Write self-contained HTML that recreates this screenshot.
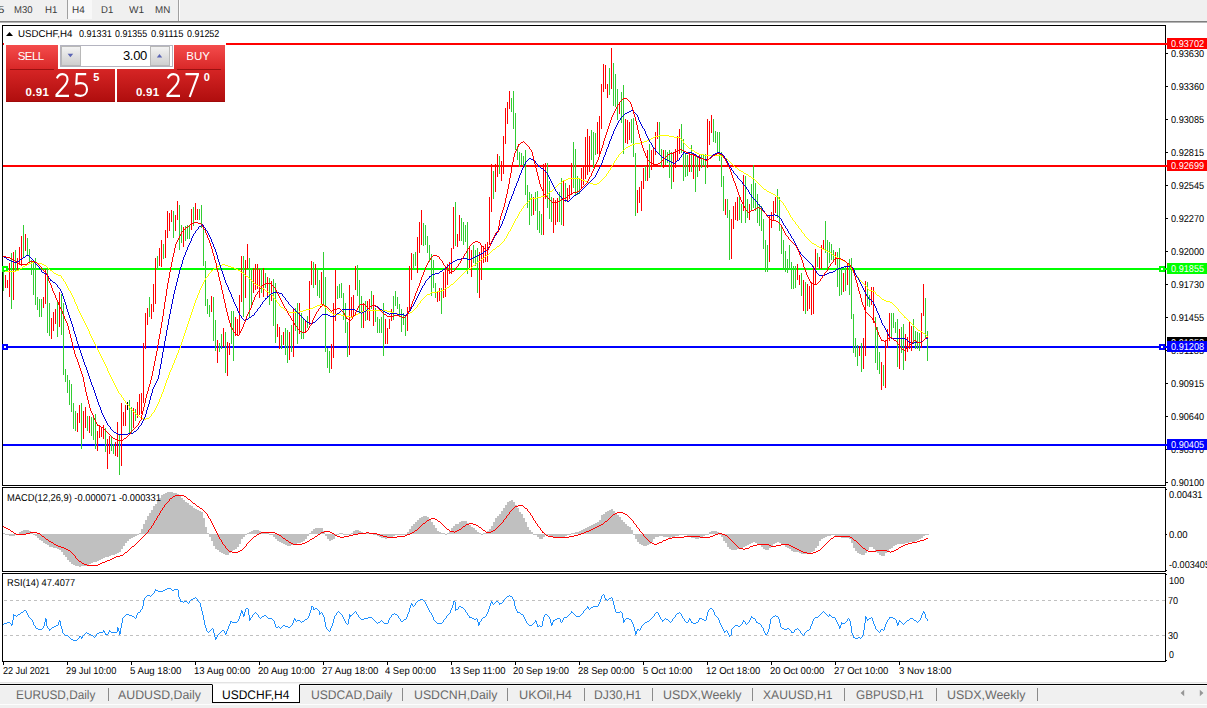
<!DOCTYPE html><html><head><meta charset="utf-8"><title>USDCHF,H4</title><style>
*{margin:0;padding:0;box-sizing:border-box}
html,body{width:1207px;height:708px;overflow:hidden;background:#fff}
body{font-family:"Liberation Sans",sans-serif;position:relative;color:#000}
.abs{position:absolute}
.tx{position:absolute;white-space:nowrap;transform-origin:0 0;text-rendering:geometricPrecision}
#toolbar{position:absolute;left:0;top:0;width:1207px;height:21px;background:#f0f0f0}
#tbsep{position:absolute;left:0;top:21px;width:1207px;height:2px;background:linear-gradient(#7e7e7e 50%,#b4b4b4 50%)}
.lab{position:absolute;left:1167px;width:40px;height:11px}
.tick{position:absolute;left:1166px;width:2px;height:1px;background:#000}
#tabs{position:absolute;left:0;top:685px;width:1207px;height:23px;background:#f0f0f0}
.tab{position:absolute;top:688px;font-size:12px;line-height:14px;color:#6a6a6a;white-space:nowrap}
.tsep{position:absolute;top:688px;width:1px;height:13px;background:#8a8a8a}
.dt{position:absolute;top:661px;width:1px;height:4px;background:#000}
</style></head><body>
<div id="toolbar">
<div class="abs" style="left:68px;top:0;width:24px;height:19px;background:#f8f8f8"></div>
<div class="abs" style="left:67px;top:0;width:1px;height:19px;background:#a0a0a0"></div>
<div class="abs" style="left:178px;top:0;width:1px;height:21px;background:#a0a0a0"></div><div class="abs" style="left:179px;top:0;width:1px;height:21px;background:#fdfdfd"></div>
<div class="tx" style="left:-1.95px;top:4.54px;font-size:10px;line-height:12px;color:#3c3c3c;transform:scaleX(1.1508);">5</div>
<div class="tx" style="left:14.25px;top:4.54px;font-size:10px;line-height:12px;color:#3c3c3c;transform:scaleX(0.9510);">M30</div>
<div class="tx" style="left:45.25px;top:4.54px;font-size:10px;line-height:12px;color:#3c3c3c;transform:scaleX(0.9700);">H1</div>
<div class="tx" style="left:72.45px;top:4.54px;font-size:10px;line-height:12px;color:#3c3c3c;transform:scaleX(0.9935);">H4</div>
<div class="tx" style="left:101.15px;top:4.54px;font-size:10px;line-height:12px;color:#3c3c3c;transform:scaleX(0.9544);">D1</div>
<div class="tx" style="left:128.55px;top:4.54px;font-size:10px;line-height:12px;color:#3c3c3c;transform:scaleX(1.0067);">W1</div>
<div class="tx" style="left:155.45px;top:4.54px;font-size:10px;line-height:12px;color:#3c3c3c;transform:scaleX(0.9774);">MN</div>
</div><div id="tbsep"></div>
<div class="abs" style="left:2px;top:25px;width:1164px;height:461px;border:1px solid #000"></div>
<div class="abs" style="left:2px;top:487px;width:1164px;height:85px;border:1px solid #000"></div>
<div class="abs" style="left:2px;top:573px;width:1164px;height:89px;border:1px solid #000"></div>
<svg class="abs" style="left:0;top:0" width="1207" height="708" viewBox="0 0 1207 708" shape-rendering="crispEdges">
<rect x="3" y="43" width="1164" height="2" fill="#f00"/>
<rect x="3" y="165" width="1164" height="2" fill="#f00"/>
<rect x="3" y="268" width="1164" height="2" fill="#0f0"/><rect x="2" y="266" width="6" height="6" fill="#0f0"/><rect x="4" y="268" width="2" height="2" fill="#fff"/><rect x="1159" y="266" width="6" height="6" fill="#0f0"/><rect x="1161" y="268" width="2" height="2" fill="#fff"/>
<rect x="3" y="346" width="1164" height="2" fill="#00f"/><rect x="2" y="344" width="6" height="6" fill="#00f"/><rect x="4" y="346" width="2" height="2" fill="#fff"/><rect x="1159" y="344" width="6" height="6" fill="#00f"/><rect x="1161" y="346" width="2" height="2" fill="#fff"/>
<rect x="3" y="444" width="1164" height="2" fill="#00f"/>
<path d="M3 271v20h1v-20zM11 253v56h1v-56zM15 250v21h1v-21zM23 225v32h1v-32zM27 238v18h1v-18zM29 249v14h1v-14zM31 260v15h1v-15zM33 260v35h1v-35zM35 258v47h1v-47zM37 297v13h1v-13zM39 299v18h1v-18zM41 299v18h1v-18zM47 269v64h1v-64zM49 303v33h1v-33zM57 302v35h1v-35zM61 294v41h1v-41zM63 303v72h1v-72zM65 369v13h1v-13zM67 375v18h1v-18zM69 380v25h1v-25zM71 384v28h1v-28zM73 403v26h1v-26zM75 411v20h1v-20zM81 403v46h1v-46zM87 416v15h1v-15zM91 417v19h1v-19zM93 418v22h1v-22zM95 414v35h1v-35zM105 428v24h1v-24zM111 437v14h1v-14zM113 444v10h1v-10zM119 434v41h1v-41zM129 400v33h1v-33zM131 407v26h1v-26zM135 409v12h1v-12zM149 297v20h1v-20zM157 256v13h1v-13zM163 244v15h1v-15zM173 211v27h1v-27zM179 205v45h1v-45zM181 225v18h1v-18zM185 226v15h1v-15zM187 225v14h1v-14zM189 225v14h1v-14zM193 207v19h1v-19zM199 209v11h1v-11zM201 205v23h1v-23zM203 225v41h1v-41zM205 261v45h1v-45zM207 299v15h1v-15zM209 305v12h1v-12zM213 297v44h1v-44zM215 320v31h1v-31zM219 343v9h1v-9zM221 334v15h1v-15zM225 332v41h1v-41zM231 311v33h1v-33zM233 311v50h1v-50zM243 256v61h1v-61zM249 258v59h1v-59zM251 270v36h1v-36zM261 269v24h1v-24zM265 273v15h1v-15zM269 278v27h1v-27zM273 279v47h1v-47zM275 283v60h1v-60zM281 335v14h1v-14zM285 328v27h1v-27zM287 330v33h1v-33zM291 325v27h1v-27zM295 308v23h1v-23zM297 303v41h1v-41zM301 313v26h1v-26zM303 319v20h1v-20zM307 316v12h1v-12zM313 262v26h1v-26zM317 270v26h1v-26zM319 280v18h1v-18zM323 252v53h1v-53zM325 277v75h1v-75zM327 348v20h1v-20zM329 351v22h1v-22zM337 286v13h1v-13zM339 284v14h1v-14zM341 283v15h1v-15zM343 293v27h1v-27zM345 303v30h1v-30zM347 322v35h1v-35zM357 265v31h1v-31zM359 280v32h1v-32zM361 296v32h1v-32zM365 301v20h1v-20zM371 291v18h1v-18zM375 308v14h1v-14zM377 317v16h1v-16zM379 319v14h1v-14zM381 317v16h1v-16zM383 303v53h1v-53zM393 296v24h1v-24zM395 291v15h1v-15zM397 297v12h1v-12zM399 304v13h1v-13zM401 309v23h1v-23zM403 313v12h1v-12zM405 315v21h1v-21zM413 254v15h1v-15zM415 252v14h1v-14zM423 223v23h1v-23zM425 225v20h1v-20zM427 236v17h1v-17zM429 245v17h1v-17zM431 254v42h1v-42zM433 260v28h1v-28zM435 283v15h1v-15zM441 288v26h1v-26zM455 202v44h1v-44zM461 218v23h1v-23zM463 222v23h1v-23zM465 225v17h1v-17zM467 222v52h1v-52zM473 245v18h1v-18zM475 250v16h1v-16zM477 248v45h1v-45zM493 171v28h1v-28zM499 156v18h1v-18zM511 98v14h1v-14zM513 91v38h1v-38zM515 113v37h1v-37zM517 146v14h1v-14zM519 152v15h1v-15zM521 153v12h1v-12zM523 156v12h1v-12zM525 150v45h1v-45zM527 185v23h1v-23zM529 192v33h1v-33zM531 194v22h1v-22zM535 192v19h1v-19zM537 191v39h1v-39zM539 211v22h1v-22zM541 214v21h1v-21zM547 163v45h1v-45zM549 181v38h1v-38zM551 197v25h1v-25zM559 192v30h1v-30zM561 178v47h1v-47zM565 183v19h1v-19zM573 142v46h1v-46zM575 149v46h1v-46zM577 176v19h1v-19zM579 178v16h1v-16zM591 130v30h1v-30zM593 132v36h1v-36zM595 133v22h1v-22zM609 68v27h1v-27zM613 63v43h1v-43zM615 74v33h1v-33zM617 89v31h1v-31zM621 92v31h1v-31zM623 85v69h1v-69zM631 119v24h1v-24zM633 118v39h1v-39zM635 153v63h1v-63zM645 166v15h1v-15zM649 144v34h1v-34zM659 122v32h1v-32zM661 149v18h1v-18zM665 150v15h1v-15zM667 152v11h1v-11zM669 150v28h1v-28zM671 152v37h1v-37zM681 124v29h1v-29zM683 139v42h1v-42zM685 154v23h1v-23zM687 155v21h1v-21zM691 145v27h1v-27zM695 155v37h1v-37zM697 157v20h1v-20zM701 154v14h1v-14zM703 154v12h1v-12zM705 154v30h1v-30zM713 119v23h1v-23zM715 131v12h1v-12zM717 132v21h1v-21zM719 132v29h1v-29zM721 152v35h1v-35zM723 176v35h1v-35zM727 199v19h1v-19zM729 210v50h1v-50zM739 196v24h1v-24zM741 204v19h1v-19zM745 176v47h1v-47zM747 199v19h1v-19zM751 184v27h1v-27zM753 165v43h1v-43zM755 183v28h1v-28zM757 194v29h1v-29zM759 204v22h1v-22zM761 206v25h1v-25zM763 219v30h1v-30zM765 240v32h1v-32zM767 245v27h1v-27zM777 189v29h1v-29zM779 197v34h1v-34zM781 225v29h1v-29zM783 240v30h1v-30zM785 251v21h1v-21zM787 259v14h1v-14zM789 245v25h1v-25zM791 262v27h1v-27zM793 266v23h1v-23zM795 266v22h1v-22zM801 273v23h1v-23zM805 282v32h1v-32zM817 253v14h1v-14zM825 221v32h1v-32zM827 240v29h1v-29zM829 242v21h1v-21zM831 244v16h1v-16zM833 250v12h1v-12zM837 252v35h1v-35zM839 248v48h1v-48zM841 267v28h1v-28zM845 266v25h1v-25zM849 259v36h1v-36zM851 258v61h1v-61zM853 314v39h1v-39zM855 338v19h1v-19zM857 345v21h1v-21zM861 343v29h1v-29zM867 282v24h1v-24zM869 295v12h1v-12zM875 317v46h1v-46zM877 327v43h1v-43zM879 352v22h1v-22zM883 365v21h1v-21zM891 313v25h1v-25zM893 313v15h1v-15zM895 322v11h1v-11zM897 319v48h1v-48zM901 327v26h1v-26zM903 324v46h1v-46zM913 319v24h1v-24zM915 331v18h1v-18zM917 332v17h1v-17zM919 333v18h1v-18zM925 298v40h1v-40zM927 331v30h1v-30z" fill="#32cd32"/>
<path d="M5 275v13h1v-13zM7 280v8h1v-8zM9 263v34h1v-34zM13 252v48h1v-48zM17 258v13h1v-13zM19 247v18h1v-18zM21 236v30h1v-30zM25 234v17h1v-17zM43 297v11h1v-11zM45 269v35h1v-35zM51 318v21h1v-21zM53 312v19h1v-19zM55 309v15h1v-15zM59 292v35h1v-35zM77 413v19h1v-19zM79 405v18h1v-18zM83 411v28h1v-28zM85 407v21h1v-21zM89 416v17h1v-17zM97 431v20h1v-20zM99 425v13h1v-13zM101 427v10h1v-10zM103 425v14h1v-14zM107 439v30h1v-30zM109 436v18h1v-18zM115 442v14h1v-14zM117 422v35h1v-35zM121 403v63h1v-63zM123 412v14h1v-14zM125 405v21h1v-21zM133 408v20h1v-20zM137 402v16h1v-16zM139 394v21h1v-21zM141 393v21h1v-21zM143 343v60h1v-60zM145 313v36h1v-36zM147 308v17h1v-17zM151 304v15h1v-15zM153 284v28h1v-28zM155 258v46h1v-46zM159 248v18h1v-18zM161 240v27h1v-27zM165 230v28h1v-28zM167 211v27h1v-27zM169 213v18h1v-18zM171 210v12h1v-12zM175 215v16h1v-16zM177 201v19h1v-19zM183 227v20h1v-20zM191 209v21h1v-21zM195 203v17h1v-17zM197 209v11h1v-11zM211 296v16h1v-16zM217 340v23h1v-23zM223 328v19h1v-19zM227 342v34h1v-34zM229 343v12h1v-12zM235 317v19h1v-19zM237 319v17h1v-17zM239 295v38h1v-38zM241 256v46h1v-46zM245 260v38h1v-38zM247 244v25h1v-25zM253 268v25h1v-25zM255 264v26h1v-26zM257 264v25h1v-25zM259 269v29h1v-29zM263 268v29h1v-29zM267 277v21h1v-21zM271 281v20h1v-20zM277 324v13h1v-13zM279 327v22h1v-22zM283 332v13h1v-13zM289 332v28h1v-28zM293 308v49h1v-49zM299 303v31h1v-31zM305 321v12h1v-12zM309 281v44h1v-44zM311 261v24h1v-24zM315 264v21h1v-21zM321 272v32h1v-32zM331 344v25h1v-25zM333 303v55h1v-55zM335 270v51h1v-51zM349 285v70h1v-70zM351 297v20h1v-20zM353 295v22h1v-22zM355 266v24h1v-24zM363 303v25h1v-25zM367 301v19h1v-19zM369 299v22h1v-22zM373 295v31h1v-31zM385 319v25h1v-25zM387 328v16h1v-16zM389 319v10h1v-10zM391 309v12h1v-12zM407 307v24h1v-24zM409 266v44h1v-44zM411 253v27h1v-27zM417 237v36h1v-36zM419 222v31h1v-31zM421 210v35h1v-35zM437 291v11h1v-11zM439 288v13h1v-13zM443 272v26h1v-26zM445 269v28h1v-28zM447 264v21h1v-21zM449 262v12h1v-12zM451 248v26h1v-26zM453 207v42h1v-42zM457 234v13h1v-13zM459 215v26h1v-26zM469 248v21h1v-21zM471 250v27h1v-27zM479 252v46h1v-46zM481 246v34h1v-34zM483 246v17h1v-17zM485 244v18h1v-18zM487 242v20h1v-20zM489 197v48h1v-48zM491 164v48h1v-48zM495 164v28h1v-28zM497 154v23h1v-23zM501 161v20h1v-20zM503 136v38h1v-38zM505 108v36h1v-36zM507 102v22h1v-22zM509 91v18h1v-18zM533 197v18h1v-18zM543 164v71h1v-71zM545 163v36h1v-36zM553 198v35h1v-35zM555 200v25h1v-25zM557 198v24h1v-24zM563 181v45h1v-45zM567 188v14h1v-14zM569 185v14h1v-14zM571 163v32h1v-32zM581 168v21h1v-21zM583 166v19h1v-19zM585 137v42h1v-42zM587 129v46h1v-46zM589 136v36h1v-36zM597 122v32h1v-32zM599 116v39h1v-39zM601 84v45h1v-45zM603 64v28h1v-28zM605 65v24h1v-24zM607 84v14h1v-14zM611 48v41h1v-41zM619 102v12h1v-12zM625 119v24h1v-24zM627 120v24h1v-24zM629 122v18h1v-18zM637 190v23h1v-23zM639 187v16h1v-16zM641 181v30h1v-30zM643 168v21h1v-21zM647 150v31h1v-31zM651 150v20h1v-20zM653 147v18h1v-18zM655 132v23h1v-23zM657 122v17h1v-17zM663 150v18h1v-18zM673 152v30h1v-30zM675 149v19h1v-19zM677 136v24h1v-24zM679 129v25h1v-25zM689 152v20h1v-20zM693 154v25h1v-25zM699 155v16h1v-16zM707 119v49h1v-49zM709 121v24h1v-24zM711 115v18h1v-18zM725 199v16h1v-16zM731 219v40h1v-40zM733 206v23h1v-23zM735 202v18h1v-18zM737 197v24h1v-24zM743 175v36h1v-36zM749 204v16h1v-16zM769 215v47h1v-47zM771 212v16h1v-16zM773 201v20h1v-20zM775 197v16h1v-16zM797 264v16h1v-16zM799 275v10h1v-10zM803 280v31h1v-31zM807 284v27h1v-27zM809 286v23h1v-23zM811 282v33h1v-33zM813 266v48h1v-48zM815 249v36h1v-36zM819 257v12h1v-12zM821 245v24h1v-24zM823 240v10h1v-10zM835 252v13h1v-13zM843 273v19h1v-19zM847 264v21h1v-21zM859 346v10h1v-10zM863 338v31h1v-31zM865 281v75h1v-75zM871 287v18h1v-18zM873 287v36h1v-36zM881 362v28h1v-28zM885 340v48h1v-48zM887 329v19h1v-19zM889 313v28h1v-28zM899 329v40h1v-40zM905 334v27h1v-27zM907 337v15h1v-15zM909 322v27h1v-27zM911 326v25h1v-25zM921 313v35h1v-35zM923 284v32h1v-32z" fill="#ff0000"/>
<path d="M127 402v8h1v-8z" fill="#000000"/>
<path d="M5 271v1h1v-1zM6 271v1h1v-1zM7 271v1h1v-1zM8 271v1h1v-1zM9 271v1h1v-1zM10 271v1h1v-1zM11 271v1h1v-1zM12 271v1h1v-1zM13 271v1h1v-1zM14 271v1h1v-1zM15 271v1h1v-1zM16 270v1h1v-1zM17 270v1h1v-1zM18 270v1h1v-1zM19 269v1h1v-1zM20 268v1h1v-1zM21 268v1h1v-1zM22 267v1h1v-1zM23 266v1h1v-1zM24 266v1h1v-1zM25 265v1h1v-1zM26 265v1h1v-1zM27 264v1h1v-1zM28 264v1h1v-1zM29 263v1h1v-1zM30 263v1h1v-1zM31 263v1h1v-1zM32 262v1h1v-1zM33 262v1h1v-1zM34 262v1h1v-1zM35 262v1h1v-1zM36 262v1h1v-1zM37 263v1h1v-1zM38 263v1h1v-1zM39 263v1h1v-1zM40 263v1h1v-1zM41 263v1h1v-1zM42 264v1h1v-1zM43 264v1h1v-1zM44 265v1h1v-1zM45 265v1h1v-1zM46 266v1h1v-1zM47 267v1h1v-1zM48 268v1h1v-1zM49 269v1h1v-1zM50 270v1h1v-1zM51 270v1h1v-1zM52 271v1h1v-1zM53 272v1h1v-1zM54 273v1h1v-1zM55 273v1h1v-1zM56 274v1h1v-1zM57 274v1h1v-1zM58 275v1h1v-1zM59 275v1h1v-1zM60 275v1h1v-1zM61 276v2h1v-2zM62 278v1h1v-1zM63 279v2h1v-2zM64 281v1h1v-1zM65 282v2h1v-2zM66 284v2h1v-2zM67 286v2h1v-2zM68 288v2h1v-2zM69 290v1h1v-1zM70 291v2h1v-2zM71 293v2h1v-2zM72 295v2h1v-2zM73 297v2h1v-2zM74 299v3h1v-3zM75 302v2h1v-2zM76 304v2h1v-2zM77 306v3h1v-3zM78 309v2h1v-2zM79 311v2h1v-2zM80 313v2h1v-2zM81 315v2h1v-2zM82 317v2h1v-2zM83 319v2h1v-2zM84 321v2h1v-2zM85 323v2h1v-2zM86 325v2h1v-2zM87 327v2h1v-2zM88 329v2h1v-2zM89 331v3h1v-3zM90 334v2h1v-2zM91 336v2h1v-2zM92 338v2h1v-2zM93 340v2h1v-2zM94 342v2h1v-2zM95 344v2h1v-2zM96 346v2h1v-2zM97 348v2h1v-2zM98 350v2h1v-2zM99 352v2h1v-2zM100 354v2h1v-2zM101 356v2h1v-2zM102 358v2h1v-2zM103 360v2h1v-2zM104 362v2h1v-2zM105 364v2h1v-2zM106 366v2h1v-2zM107 368v3h1v-3zM108 371v2h1v-2zM109 373v2h1v-2zM110 375v2h1v-2zM111 377v2h1v-2zM112 379v2h1v-2zM113 381v2h1v-2zM114 383v2h1v-2zM115 385v2h1v-2zM116 387v2h1v-2zM117 389v2h1v-2zM118 391v2h1v-2zM119 393v1h1v-1zM120 394v1h1v-1zM121 395v2h1v-2zM122 397v1h1v-1zM123 398v2h1v-2zM124 400v1h1v-1zM125 401v2h1v-2zM126 403v1h1v-1zM127 404v1h1v-1zM128 405v1h1v-1zM129 406v2h1v-2zM130 408v1h1v-1zM131 409v1h1v-1zM132 410v1h1v-1zM133 411v1h1v-1zM134 412v1h1v-1zM135 413v1h1v-1zM136 414v1h1v-1zM137 415v1h1v-1zM138 415v1h1v-1zM139 416v1h1v-1zM140 417v1h1v-1zM141 417v1h1v-1zM142 418v1h1v-1zM143 418v1h1v-1zM144 419v1h1v-1zM145 419v1h1v-1zM146 418v1h1v-1zM147 418v1h1v-1zM148 418v1h1v-1zM149 417v1h1v-1zM150 416v1h1v-1zM151 414v2h1v-2zM152 413v1h1v-1zM153 412v1h1v-1zM154 410v2h1v-2zM155 408v2h1v-2zM156 406v2h1v-2zM157 404v2h1v-2zM158 402v2h1v-2zM159 399v3h1v-3zM160 397v2h1v-2zM161 394v3h1v-3zM162 392v2h1v-2zM163 389v3h1v-3zM164 386v3h1v-3zM165 383v3h1v-3zM166 380v3h1v-3zM167 378v2h1v-2zM168 375v3h1v-3zM169 372v3h1v-3zM170 370v2h1v-2zM171 368v2h1v-2zM172 365v3h1v-3zM173 363v2h1v-2zM174 360v3h1v-3zM175 358v2h1v-2zM176 355v3h1v-3zM177 353v2h1v-2zM178 350v3h1v-3zM179 348v2h1v-2zM180 345v3h1v-3zM181 342v3h1v-3zM182 339v3h1v-3zM183 336v3h1v-3zM184 333v3h1v-3zM185 330v3h1v-3zM186 327v3h1v-3zM187 324v3h1v-3zM188 321v3h1v-3zM189 318v3h1v-3zM190 315v3h1v-3zM191 312v3h1v-3zM192 309v3h1v-3zM193 306v3h1v-3zM194 303v3h1v-3zM195 300v3h1v-3zM196 298v2h1v-2zM197 295v3h1v-3zM198 293v2h1v-2zM199 290v3h1v-3zM200 288v2h1v-2zM201 286v2h1v-2zM202 284v2h1v-2zM203 282v2h1v-2zM204 280v2h1v-2zM205 278v2h1v-2zM206 277v1h1v-1zM207 276v1h1v-1zM208 274v2h1v-2zM209 273v1h1v-1zM210 272v1h1v-1zM211 270v2h1v-2zM212 270v1h1v-1zM213 269v1h1v-1zM214 268v1h1v-1zM215 268v1h1v-1zM216 267v1h1v-1zM217 266v1h1v-1zM218 266v1h1v-1zM219 265v1h1v-1zM220 265v1h1v-1zM221 265v1h1v-1zM222 264v1h1v-1zM223 264v1h1v-1zM224 264v1h1v-1zM225 265v1h1v-1zM226 265v1h1v-1zM227 265v1h1v-1zM228 266v1h1v-1zM229 266v1h1v-1zM230 266v1h1v-1zM231 267v1h1v-1zM232 267v1h1v-1zM233 267v1h1v-1zM234 268v1h1v-1zM235 268v1h1v-1zM236 269v1h1v-1zM237 269v1h1v-1zM238 270v1h1v-1zM239 270v1h1v-1zM240 271v1h1v-1zM241 272v1h1v-1zM242 272v1h1v-1zM243 273v1h1v-1zM244 274v1h1v-1zM245 275v1h1v-1zM246 276v1h1v-1zM247 276v1h1v-1zM248 277v1h1v-1zM249 278v1h1v-1zM250 279v1h1v-1zM251 280v1h1v-1zM252 281v1h1v-1zM253 282v1h1v-1zM254 283v1h1v-1zM255 284v1h1v-1zM256 284v1h1v-1zM257 285v1h1v-1zM258 285v1h1v-1zM259 286v1h1v-1zM260 286v1h1v-1zM261 287v1h1v-1zM262 288v1h1v-1zM263 288v1h1v-1zM264 289v1h1v-1zM265 290v1h1v-1zM266 291v1h1v-1zM267 291v1h1v-1zM268 292v1h1v-1zM269 293v1h1v-1zM270 294v1h1v-1zM271 294v1h1v-1zM272 295v1h1v-1zM273 296v2h1v-2zM274 298v1h1v-1zM275 299v1h1v-1zM276 300v2h1v-2zM277 302v1h1v-1zM278 303v1h1v-1zM279 304v2h1v-2zM280 306v1h1v-1zM281 307v1h1v-1zM282 307v1h1v-1zM283 308v1h1v-1zM284 309v1h1v-1zM285 310v1h1v-1zM286 310v1h1v-1zM287 311v1h1v-1zM288 311v1h1v-1zM289 312v1h1v-1zM290 312v1h1v-1zM291 312v1h1v-1zM292 312v1h1v-1zM293 312v1h1v-1zM294 312v1h1v-1zM295 312v1h1v-1zM296 312v1h1v-1zM297 312v1h1v-1zM298 312v1h1v-1zM299 311v1h1v-1zM300 311v1h1v-1zM301 311v1h1v-1zM302 311v1h1v-1zM303 310v1h1v-1zM304 310v1h1v-1zM305 310v1h1v-1zM306 309v1h1v-1zM307 309v1h1v-1zM308 309v1h1v-1zM309 309v1h1v-1zM310 308v1h1v-1zM311 308v1h1v-1zM312 308v1h1v-1zM313 307v1h1v-1zM314 307v1h1v-1zM315 306v1h1v-1zM316 306v1h1v-1zM317 305v1h1v-1zM318 305v1h1v-1zM319 305v1h1v-1zM320 304v1h1v-1zM321 304v1h1v-1zM322 305v1h1v-1zM323 305v1h1v-1zM324 306v1h1v-1zM325 307v1h1v-1zM326 308v1h1v-1zM327 309v1h1v-1zM328 310v1h1v-1zM329 311v1h1v-1zM330 312v1h1v-1zM331 312v1h1v-1zM332 313v1h1v-1zM333 314v1h1v-1zM334 314v1h1v-1zM335 314v1h1v-1zM336 314v1h1v-1zM337 314v1h1v-1zM338 314v1h1v-1zM339 314v1h1v-1zM340 314v1h1v-1zM341 315v1h1v-1zM342 315v1h1v-1zM343 315v1h1v-1zM344 315v1h1v-1zM345 316v1h1v-1zM346 316v1h1v-1zM347 316v1h1v-1zM348 316v1h1v-1zM349 316v1h1v-1zM350 317v1h1v-1zM351 317v1h1v-1zM352 316v1h1v-1zM353 316v1h1v-1zM354 315v1h1v-1zM355 315v1h1v-1zM356 314v1h1v-1zM357 314v1h1v-1zM358 313v1h1v-1zM359 313v1h1v-1zM360 312v1h1v-1zM361 312v1h1v-1zM362 311v1h1v-1zM363 311v1h1v-1zM364 311v1h1v-1zM365 310v1h1v-1zM366 310v1h1v-1zM367 310v1h1v-1zM368 310v1h1v-1zM369 310v1h1v-1zM370 310v1h1v-1zM371 310v1h1v-1zM372 310v1h1v-1zM373 310v1h1v-1zM374 310v1h1v-1zM375 310v1h1v-1zM376 310v1h1v-1zM377 310v1h1v-1zM378 310v1h1v-1zM379 310v1h1v-1zM380 310v1h1v-1zM381 310v1h1v-1zM382 310v1h1v-1zM383 310v1h1v-1zM384 310v1h1v-1zM385 310v1h1v-1zM386 310v1h1v-1zM387 311v1h1v-1zM388 311v1h1v-1zM389 311v1h1v-1zM390 311v1h1v-1zM391 312v1h1v-1zM392 312v1h1v-1zM393 312v1h1v-1zM394 313v1h1v-1zM395 313v1h1v-1zM396 313v1h1v-1zM397 313v1h1v-1zM398 314v1h1v-1zM399 314v1h1v-1zM400 314v1h1v-1zM401 314v1h1v-1zM402 314v1h1v-1zM403 314v1h1v-1zM404 315v1h1v-1zM405 315v1h1v-1zM406 314v1h1v-1zM407 314v1h1v-1zM408 313v1h1v-1zM409 313v1h1v-1zM410 312v1h1v-1zM411 312v1h1v-1zM412 311v1h1v-1zM413 310v1h1v-1zM414 309v1h1v-1zM415 308v1h1v-1zM416 307v1h1v-1zM417 305v2h1v-2zM418 304v1h1v-1zM419 303v1h1v-1zM420 301v2h1v-2zM421 300v1h1v-1zM422 299v1h1v-1zM423 298v1h1v-1zM424 297v1h1v-1zM425 296v1h1v-1zM426 295v1h1v-1zM427 294v1h1v-1zM428 294v1h1v-1zM429 294v1h1v-1zM430 293v1h1v-1zM431 292v1h1v-1zM432 292v1h1v-1zM433 292v1h1v-1zM434 292v1h1v-1zM435 292v1h1v-1zM436 292v1h1v-1zM437 291v1h1v-1zM438 291v1h1v-1zM439 291v1h1v-1zM440 291v1h1v-1zM441 290v1h1v-1zM442 290v1h1v-1zM443 290v1h1v-1zM444 289v1h1v-1zM445 288v1h1v-1zM446 288v1h1v-1zM447 287v1h1v-1zM448 287v1h1v-1zM449 286v1h1v-1zM450 285v1h1v-1zM451 284v1h1v-1zM452 284v1h1v-1zM453 283v1h1v-1zM454 282v1h1v-1zM455 281v1h1v-1zM456 280v1h1v-1zM457 279v1h1v-1zM458 278v1h1v-1zM459 277v1h1v-1zM460 276v1h1v-1zM461 275v1h1v-1zM462 274v1h1v-1zM463 273v1h1v-1zM464 272v1h1v-1zM465 271v1h1v-1zM466 270v1h1v-1zM467 270v1h1v-1zM468 269v1h1v-1zM469 268v1h1v-1zM470 268v1h1v-1zM471 267v1h1v-1zM472 266v1h1v-1zM473 265v1h1v-1zM474 265v1h1v-1zM475 264v1h1v-1zM476 263v1h1v-1zM477 262v1h1v-1zM478 261v1h1v-1zM479 261v1h1v-1zM480 260v1h1v-1zM481 259v1h1v-1zM482 258v1h1v-1zM483 258v1h1v-1zM484 257v1h1v-1zM485 256v1h1v-1zM486 255v1h1v-1zM487 255v1h1v-1zM488 254v1h1v-1zM489 253v1h1v-1zM490 252v1h1v-1zM491 251v1h1v-1zM492 250v1h1v-1zM493 249v1h1v-1zM494 249v1h1v-1zM495 248v1h1v-1zM496 247v1h1v-1zM497 246v1h1v-1zM498 246v1h1v-1zM499 245v1h1v-1zM500 244v1h1v-1zM501 243v1h1v-1zM502 242v1h1v-1zM503 241v1h1v-1zM504 239v2h1v-2zM505 238v1h1v-1zM506 236v2h1v-2zM507 234v2h1v-2zM508 232v2h1v-2zM509 231v1h1v-1zM510 229v2h1v-2zM511 227v2h1v-2zM512 225v2h1v-2zM513 223v2h1v-2zM514 221v2h1v-2zM515 219v2h1v-2zM516 218v1h1v-1zM517 216v2h1v-2zM518 214v2h1v-2zM519 212v2h1v-2zM520 211v1h1v-1zM521 209v2h1v-2zM522 208v1h1v-1zM523 206v2h1v-2zM524 205v1h1v-1zM525 204v1h1v-1zM526 203v1h1v-1zM527 202v1h1v-1zM528 201v1h1v-1zM529 200v1h1v-1zM530 198v2h1v-2zM531 198v1h1v-1zM532 198v1h1v-1zM533 198v1h1v-1zM534 198v1h1v-1zM535 198v1h1v-1zM536 198v1h1v-1zM537 197v1h1v-1zM538 197v1h1v-1zM539 197v1h1v-1zM540 197v1h1v-1zM541 196v1h1v-1zM542 196v1h1v-1zM543 196v1h1v-1zM544 196v1h1v-1zM545 195v1h1v-1zM546 195v1h1v-1zM547 194v1h1v-1zM548 193v1h1v-1zM549 192v1h1v-1zM550 191v1h1v-1zM551 191v1h1v-1zM552 190v1h1v-1zM553 189v1h1v-1zM554 188v1h1v-1zM555 187v1h1v-1zM556 186v1h1v-1zM557 185v1h1v-1zM558 184v1h1v-1zM559 183v1h1v-1zM560 183v1h1v-1zM561 182v1h1v-1zM562 181v1h1v-1zM563 180v1h1v-1zM564 180v1h1v-1zM565 180v1h1v-1zM566 179v1h1v-1zM567 179v1h1v-1zM568 178v1h1v-1zM569 178v1h1v-1zM570 178v1h1v-1zM571 178v1h1v-1zM572 178v1h1v-1zM573 178v1h1v-1zM574 178v1h1v-1zM575 178v1h1v-1zM576 178v1h1v-1zM577 178v1h1v-1zM578 178v1h1v-1zM579 178v1h1v-1zM580 179v1h1v-1zM581 179v1h1v-1zM582 180v1h1v-1zM583 180v1h1v-1zM584 180v1h1v-1zM585 181v1h1v-1zM586 181v1h1v-1zM587 181v1h1v-1zM588 182v1h1v-1zM589 182v1h1v-1zM590 183v1h1v-1zM591 183v1h1v-1zM592 183v1h1v-1zM593 184v1h1v-1zM594 184v1h1v-1zM595 184v1h1v-1zM596 184v1h1v-1zM597 183v1h1v-1zM598 183v1h1v-1zM599 182v1h1v-1zM600 181v1h1v-1zM601 180v1h1v-1zM602 179v1h1v-1zM603 178v1h1v-1zM604 177v1h1v-1zM605 176v1h1v-1zM606 174v2h1v-2zM607 173v1h1v-1zM608 171v2h1v-2zM609 170v1h1v-1zM610 168v2h1v-2zM611 166v2h1v-2zM612 165v1h1v-1zM613 163v2h1v-2zM614 161v2h1v-2zM615 160v1h1v-1zM616 158v2h1v-2zM617 157v1h1v-1zM618 155v2h1v-2zM619 154v1h1v-1zM620 153v1h1v-1zM621 152v1h1v-1zM622 151v1h1v-1zM623 150v1h1v-1zM624 149v1h1v-1zM625 148v1h1v-1zM626 147v1h1v-1zM627 147v1h1v-1zM628 146v1h1v-1zM629 146v1h1v-1zM630 145v1h1v-1zM631 145v1h1v-1zM632 144v1h1v-1zM633 144v1h1v-1zM634 144v1h1v-1zM635 143v1h1v-1zM636 143v1h1v-1zM637 143v1h1v-1zM638 143v1h1v-1zM639 143v1h1v-1zM640 142v1h1v-1zM641 142v1h1v-1zM642 142v1h1v-1zM643 142v1h1v-1zM644 141v1h1v-1zM645 141v1h1v-1zM646 141v1h1v-1zM647 140v1h1v-1zM648 140v1h1v-1zM649 139v1h1v-1zM650 139v1h1v-1zM651 138v1h1v-1zM652 138v1h1v-1zM653 137v1h1v-1zM654 137v1h1v-1zM655 136v1h1v-1zM656 136v1h1v-1zM657 136v1h1v-1zM658 136v1h1v-1zM659 135v1h1v-1zM660 135v1h1v-1zM661 135v1h1v-1zM662 135v1h1v-1zM663 135v1h1v-1zM664 135v1h1v-1zM665 135v1h1v-1zM666 135v1h1v-1zM667 135v1h1v-1zM668 135v1h1v-1zM669 136v1h1v-1zM670 136v1h1v-1zM671 136v1h1v-1zM672 136v1h1v-1zM673 136v1h1v-1zM674 137v1h1v-1zM675 137v1h1v-1zM676 137v1h1v-1zM677 137v1h1v-1zM678 137v1h1v-1zM679 137v1h1v-1zM680 138v1h1v-1zM681 139v1h1v-1zM682 140v1h1v-1zM683 141v2h1v-2zM684 143v1h1v-1zM685 144v1h1v-1zM686 145v1h1v-1zM687 146v1h1v-1zM688 147v1h1v-1zM689 148v1h1v-1zM690 148v1h1v-1zM691 149v1h1v-1zM692 150v1h1v-1zM693 150v1h1v-1zM694 151v1h1v-1zM695 152v1h1v-1zM696 152v1h1v-1zM697 153v1h1v-1zM698 153v1h1v-1zM699 154v1h1v-1zM700 154v1h1v-1zM701 154v1h1v-1zM702 154v1h1v-1zM703 154v1h1v-1zM704 155v1h1v-1zM705 155v1h1v-1zM706 155v1h1v-1zM707 155v1h1v-1zM708 155v1h1v-1zM709 155v1h1v-1zM710 155v1h1v-1zM711 155v1h1v-1zM712 155v1h1v-1zM713 155v1h1v-1zM714 155v1h1v-1zM715 155v1h1v-1zM716 155v1h1v-1zM717 155v1h1v-1zM718 155v1h1v-1zM719 155v1h1v-1zM720 155v1h1v-1zM721 156v1h1v-1zM722 156v1h1v-1zM723 157v1h1v-1zM724 157v1h1v-1zM725 158v1h1v-1zM726 158v1h1v-1zM727 159v1h1v-1zM728 160v1h1v-1zM729 161v1h1v-1zM730 162v1h1v-1zM731 163v1h1v-1zM732 164v1h1v-1zM733 165v1h1v-1zM734 166v1h1v-1zM735 167v1h1v-1zM736 167v1h1v-1zM737 168v1h1v-1zM738 169v1h1v-1zM739 170v1h1v-1zM740 170v1h1v-1zM741 171v1h1v-1zM742 171v1h1v-1zM743 172v1h1v-1zM744 173v1h1v-1zM745 173v1h1v-1zM746 174v1h1v-1zM747 174v1h1v-1zM748 175v1h1v-1zM749 176v1h1v-1zM750 176v1h1v-1zM751 177v1h1v-1zM752 178v1h1v-1zM753 178v1h1v-1zM754 179v1h1v-1zM755 180v1h1v-1zM756 181v1h1v-1zM757 182v1h1v-1zM758 183v1h1v-1zM759 184v1h1v-1zM760 185v1h1v-1zM761 186v1h1v-1zM762 187v1h1v-1zM763 188v1h1v-1zM764 189v1h1v-1zM765 189v1h1v-1zM766 190v1h1v-1zM767 191v1h1v-1zM768 191v1h1v-1zM769 192v1h1v-1zM770 192v1h1v-1zM771 193v1h1v-1zM772 193v1h1v-1zM773 194v1h1v-1zM774 194v1h1v-1zM775 195v1h1v-1zM776 196v1h1v-1zM777 196v1h1v-1zM778 197v2h1v-2zM779 199v1h1v-1zM780 200v1h1v-1zM781 201v1h1v-1zM782 202v1h1v-1zM783 203v2h1v-2zM784 205v1h1v-1zM785 206v2h1v-2zM786 208v2h1v-2zM787 210v1h1v-1zM788 211v2h1v-2zM789 213v2h1v-2zM790 215v2h1v-2zM791 217v1h1v-1zM792 218v2h1v-2zM793 220v1h1v-1zM794 221v1h1v-1zM795 222v2h1v-2zM796 224v1h1v-1zM797 225v1h1v-1zM798 226v2h1v-2zM799 228v1h1v-1zM800 229v1h1v-1zM801 230v2h1v-2zM802 232v1h1v-1zM803 233v1h1v-1zM804 234v2h1v-2zM805 236v1h1v-1zM806 237v1h1v-1zM807 238v1h1v-1zM808 239v1h1v-1zM809 240v1h1v-1zM810 241v1h1v-1zM811 242v1h1v-1zM812 243v1h1v-1zM813 243v1h1v-1zM814 244v1h1v-1zM815 244v1h1v-1zM816 245v1h1v-1zM817 246v1h1v-1zM818 246v1h1v-1zM819 247v1h1v-1zM820 247v1h1v-1zM821 248v1h1v-1zM822 248v1h1v-1zM823 249v1h1v-1zM824 249v1h1v-1zM825 250v1h1v-1zM826 250v1h1v-1zM827 251v1h1v-1zM828 251v1h1v-1zM829 252v1h1v-1zM830 252v1h1v-1zM831 253v1h1v-1zM832 254v1h1v-1zM833 255v1h1v-1zM834 255v1h1v-1zM835 256v1h1v-1zM836 257v1h1v-1zM837 257v1h1v-1zM838 258v1h1v-1zM839 258v1h1v-1zM840 259v1h1v-1zM841 259v1h1v-1zM842 260v1h1v-1zM843 260v1h1v-1zM844 261v1h1v-1zM845 261v1h1v-1zM846 262v1h1v-1zM847 263v1h1v-1zM848 264v2h1v-2zM849 266v1h1v-1zM850 267v1h1v-1zM851 268v1h1v-1zM852 269v2h1v-2zM853 271v1h1v-1zM854 272v1h1v-1zM855 273v2h1v-2zM856 275v1h1v-1zM857 276v1h1v-1zM858 277v2h1v-2zM859 279v1h1v-1zM860 280v1h1v-1zM861 281v1h1v-1zM862 282v1h1v-1zM863 283v1h1v-1zM864 284v1h1v-1zM865 285v1h1v-1zM866 286v1h1v-1zM867 287v2h1v-2zM868 289v1h1v-1zM869 290v1h1v-1zM870 290v1h1v-1zM871 290v1h1v-1zM872 291v1h1v-1zM873 291v1h1v-1zM874 291v1h1v-1zM875 292v2h1v-2zM876 294v1h1v-1zM877 295v1h1v-1zM878 295v1h1v-1zM879 296v1h1v-1zM880 297v1h1v-1zM881 298v1h1v-1zM882 299v1h1v-1zM883 299v1h1v-1zM884 300v1h1v-1zM885 300v1h1v-1zM886 301v1h1v-1zM887 301v1h1v-1zM888 301v1h1v-1zM889 301v1h1v-1zM890 302v1h1v-1zM891 302v1h1v-1zM892 303v1h1v-1zM893 304v1h1v-1zM894 305v1h1v-1zM895 306v1h1v-1zM896 307v1h1v-1zM897 308v1h1v-1zM898 309v2h1v-2zM899 311v1h1v-1zM900 312v1h1v-1zM901 313v1h1v-1zM902 314v1h1v-1zM903 315v1h1v-1zM904 316v2h1v-2zM905 317v1h1v-1zM906 318v1h1v-1zM907 319v1h1v-1zM908 320v1h1v-1zM909 321v1h1v-1zM910 322v1h1v-1zM911 323v1h1v-1zM912 324v1h1v-1zM913 325v1h1v-1zM914 326v1h1v-1zM915 327v1h1v-1zM916 328v1h1v-1zM917 329v1h1v-1zM918 330v1h1v-1zM919 330v1h1v-1zM920 331v1h1v-1zM921 331v1h1v-1zM922 332v1h1v-1zM923 333v1h1v-1zM924 333v1h1v-1zM925 334v1h1v-1zM926 335v1h1v-1zM927 336v1h1v-1z" fill="#ffff00"/>
<path d="M3 256v1h1v-1zM4 257v1h1v-1zM5 257v1h1v-1zM6 258v1h1v-1zM7 259v1h1v-1zM8 259v1h1v-1zM9 260v1h1v-1zM10 260v1h1v-1zM11 261v1h1v-1zM12 261v1h1v-1zM13 261v1h1v-1zM14 262v1h1v-1zM15 262v1h1v-1zM16 262v1h1v-1zM17 261v1h1v-1zM18 261v1h1v-1zM19 260v1h1v-1zM20 259v1h1v-1zM21 259v1h1v-1zM22 258v1h1v-1zM23 257v1h1v-1zM24 257v1h1v-1zM25 256v1h1v-1zM26 255v1h1v-1zM27 255v1h1v-1zM28 255v1h1v-1zM29 256v1h1v-1zM30 257v1h1v-1zM31 258v1h1v-1zM32 259v1h1v-1zM33 260v1h1v-1zM34 261v2h1v-2zM35 263v1h1v-1zM36 264v1h1v-1zM37 265v1h1v-1zM38 266v1h1v-1zM39 267v2h1v-2zM40 269v1h1v-1zM41 270v2h1v-2zM42 272v1h1v-1zM43 272v1h1v-1zM44 273v1h1v-1zM45 273v1h1v-1zM46 274v1h1v-1zM47 275v1h1v-1zM48 276v2h1v-2zM49 278v1h1v-1zM50 279v2h1v-2zM51 280v1h1v-1zM52 281v1h1v-1zM53 282v1h1v-1zM54 282v1h1v-1zM55 283v1h1v-1zM56 284v1h1v-1zM57 285v2h1v-2zM58 287v1h1v-1zM59 288v1h1v-1zM60 289v2h1v-2zM61 291v2h1v-2zM62 293v3h1v-3zM63 296v3h1v-3zM64 299v3h1v-3zM65 302v3h1v-3zM66 305v4h1v-4zM67 309v3h1v-3zM68 312v3h1v-3zM69 315v3h1v-3zM70 318v3h1v-3zM71 321v3h1v-3zM72 324v3h1v-3zM73 327v4h1v-4zM74 331v3h1v-3zM75 334v3h1v-3zM76 337v4h1v-4zM77 341v3h1v-3zM78 344v3h1v-3zM79 347v3h1v-3zM80 350v3h1v-3zM81 353v3h1v-3zM82 356v3h1v-3zM83 359v3h1v-3zM84 362v3h1v-3zM85 365v2h1v-2zM86 367v3h1v-3zM87 370v3h1v-3zM88 373v3h1v-3zM89 376v3h1v-3zM90 379v3h1v-3zM91 382v3h1v-3zM92 385v2h1v-2zM93 387v3h1v-3zM94 390v3h1v-3zM95 393v3h1v-3zM96 396v3h1v-3zM97 399v3h1v-3zM98 402v3h1v-3zM99 405v2h1v-2zM100 407v3h1v-3zM101 410v3h1v-3zM102 413v2h1v-2zM103 415v2h1v-2zM104 417v2h1v-2zM105 419v2h1v-2zM106 421v2h1v-2zM107 423v2h1v-2zM108 425v1h1v-1zM109 426v1h1v-1zM110 427v2h1v-2zM111 429v1h1v-1zM112 430v1h1v-1zM113 431v1h1v-1zM114 432v1h1v-1zM115 432v1h1v-1zM116 433v1h1v-1zM117 433v1h1v-1zM118 434v1h1v-1zM119 434v1h1v-1zM120 434v1h1v-1zM121 434v1h1v-1zM122 434v1h1v-1zM123 434v1h1v-1zM124 434v1h1v-1zM125 434v1h1v-1zM126 434v1h1v-1zM127 434v1h1v-1zM128 433v1h1v-1zM129 433v1h1v-1zM130 433v1h1v-1zM131 433v1h1v-1zM132 433v1h1v-1zM133 432v1h1v-1zM134 431v1h1v-1zM135 431v1h1v-1zM136 430v1h1v-1zM137 429v1h1v-1zM138 427v2h1v-2zM139 426v1h1v-1zM140 425v1h1v-1zM141 423v2h1v-2zM142 421v2h1v-2zM143 419v2h1v-2zM144 417v2h1v-2zM145 414v3h1v-3zM146 410v4h1v-4zM147 407v3h1v-3zM148 404v3h1v-3zM149 400v4h1v-4zM150 396v4h1v-4zM151 393v3h1v-3zM152 389v4h1v-4zM153 387v2h1v-2zM154 385v2h1v-2zM155 383v2h1v-2zM156 381v2h1v-2zM157 379v2h1v-2zM158 375v4h1v-4zM159 369v6h1v-6zM160 364v5h1v-5zM161 358v6h1v-6zM162 352v6h1v-6zM163 347v5h1v-5zM164 341v6h1v-6zM165 336v5h1v-5zM166 330v6h1v-6zM167 325v5h1v-5zM168 319v6h1v-6zM169 314v5h1v-5zM170 309v5h1v-5zM171 304v5h1v-5zM172 299v5h1v-5zM173 294v5h1v-5zM174 290v4h1v-4zM175 286v4h1v-4zM176 282v4h1v-4zM177 278v4h1v-4zM178 274v4h1v-4zM179 270v4h1v-4zM180 267v3h1v-3zM181 264v3h1v-3zM182 260v4h1v-4zM183 257v3h1v-3zM184 255v2h1v-2zM185 252v3h1v-3zM186 250v2h1v-2zM187 247v3h1v-3zM188 245v2h1v-2zM189 243v2h1v-2zM190 241v2h1v-2zM191 238v3h1v-3zM192 236v2h1v-2zM193 234v2h1v-2zM194 233v1h1v-1zM195 231v2h1v-2zM196 230v1h1v-1zM197 229v1h1v-1zM198 227v2h1v-2zM199 226v1h1v-1zM200 226v1h1v-1zM201 225v1h1v-1zM202 224v1h1v-1zM203 225v2h1v-2zM204 227v1h1v-1zM205 228v2h1v-2zM206 230v1h1v-1zM207 231v2h1v-2zM208 233v2h1v-2zM209 235v2h1v-2zM210 237v2h1v-2zM211 239v3h1v-3zM212 242v2h1v-2zM213 244v3h1v-3zM214 247v2h1v-2zM215 249v3h1v-3zM216 252v3h1v-3zM217 255v4h1v-4zM218 259v3h1v-3zM219 262v3h1v-3zM220 265v3h1v-3zM221 268v3h1v-3zM222 271v3h1v-3zM223 274v3h1v-3zM224 277v3h1v-3zM225 280v3h1v-3zM226 283v2h1v-2zM227 285v2h1v-2zM228 287v3h1v-3zM229 290v2h1v-2zM230 292v2h1v-2zM231 294v3h1v-3zM232 297v2h1v-2zM233 299v3h1v-3zM234 302v2h1v-2zM235 304v2h1v-2zM236 306v2h1v-2zM237 308v3h1v-3zM238 311v2h1v-2zM239 313v2h1v-2zM240 315v1h1v-1zM241 316v2h1v-2zM242 318v1h1v-1zM243 319v1h1v-1zM244 320v1h1v-1zM245 320v1h1v-1zM246 319v1h1v-1zM247 319v1h1v-1zM248 318v1h1v-1zM249 317v1h1v-1zM250 317v1h1v-1zM251 316v1h1v-1zM252 315v1h1v-1zM253 315v1h1v-1zM254 313v2h1v-2zM255 312v1h1v-1zM256 311v1h1v-1zM257 309v2h1v-2zM258 308v1h1v-1zM259 307v1h1v-1zM260 305v2h1v-2zM261 304v1h1v-1zM262 302v2h1v-2zM263 301v1h1v-1zM264 300v1h1v-1zM265 298v2h1v-2zM266 298v1h1v-1zM267 296v2h1v-2zM268 296v1h1v-1zM269 295v1h1v-1zM270 294v1h1v-1zM271 293v1h1v-1zM272 293v1h1v-1zM273 292v1h1v-1zM274 292v1h1v-1zM275 292v1h1v-1zM276 292v1h1v-1zM277 292v1h1v-1zM278 292v1h1v-1zM279 293v1h1v-1zM280 293v1h1v-1zM281 293v1h1v-1zM282 294v2h1v-2zM283 296v1h1v-1zM284 297v1h1v-1zM285 298v2h1v-2zM286 300v1h1v-1zM287 301v1h1v-1zM288 302v2h1v-2zM289 304v1h1v-1zM290 305v1h1v-1zM291 306v1h1v-1zM292 307v1h1v-1zM293 308v1h1v-1zM294 309v1h1v-1zM295 310v1h1v-1zM296 311v1h1v-1zM297 312v1h1v-1zM298 313v1h1v-1zM299 314v1h1v-1zM300 315v1h1v-1zM301 316v1h1v-1zM302 317v1h1v-1zM303 318v1h1v-1zM304 319v1h1v-1zM305 320v1h1v-1zM306 321v1h1v-1zM307 322v1h1v-1zM308 322v1h1v-1zM309 323v1h1v-1zM310 323v1h1v-1zM311 323v1h1v-1zM312 323v1h1v-1zM313 322v1h1v-1zM314 322v1h1v-1zM315 321v1h1v-1zM316 320v1h1v-1zM317 319v1h1v-1zM318 318v1h1v-1zM319 317v1h1v-1zM320 316v1h1v-1zM321 315v1h1v-1zM322 314v1h1v-1zM323 314v1h1v-1zM324 314v1h1v-1zM325 314v1h1v-1zM326 314v1h1v-1zM327 314v1h1v-1zM328 315v1h1v-1zM329 315v1h1v-1zM330 316v1h1v-1zM331 316v1h1v-1zM332 316v1h1v-1zM333 316v1h1v-1zM334 316v1h1v-1zM335 315v1h1v-1zM336 314v1h1v-1zM337 313v1h1v-1zM338 313v1h1v-1zM339 312v1h1v-1zM340 311v1h1v-1zM341 310v1h1v-1zM342 309v1h1v-1zM343 309v1h1v-1zM344 309v1h1v-1zM345 309v1h1v-1zM346 309v1h1v-1zM347 309v1h1v-1zM348 309v1h1v-1zM349 309v1h1v-1zM350 309v1h1v-1zM351 309v1h1v-1zM352 309v1h1v-1zM353 309v1h1v-1zM354 309v1h1v-1zM355 310v1h1v-1zM356 310v1h1v-1zM357 311v1h1v-1zM358 311v1h1v-1zM359 312v1h1v-1zM360 312v1h1v-1zM361 313v1h1v-1zM362 312v1h1v-1zM363 312v1h1v-1zM364 311v1h1v-1zM365 311v1h1v-1zM366 310v1h1v-1zM367 309v1h1v-1zM368 308v1h1v-1zM369 307v1h1v-1zM370 306v1h1v-1zM371 306v1h1v-1zM372 305v1h1v-1zM373 305v1h1v-1zM374 305v1h1v-1zM375 306v1h1v-1zM376 306v1h1v-1zM377 306v1h1v-1zM378 307v1h1v-1zM379 308v1h1v-1zM380 309v1h1v-1zM381 309v1h1v-1zM382 310v1h1v-1zM383 311v1h1v-1zM384 311v1h1v-1zM385 312v1h1v-1zM386 312v1h1v-1zM387 313v1h1v-1zM388 313v1h1v-1zM389 314v1h1v-1zM390 313v1h1v-1zM391 313v1h1v-1zM392 313v1h1v-1zM393 313v1h1v-1zM394 313v1h1v-1zM395 313v1h1v-1zM396 313v1h1v-1zM397 314v1h1v-1zM398 314v1h1v-1zM399 314v1h1v-1zM400 314v1h1v-1zM401 314v1h1v-1zM402 314v1h1v-1zM403 314v1h1v-1zM404 315v1h1v-1zM405 315v1h1v-1zM406 314v1h1v-1zM407 313v1h1v-1zM408 312v1h1v-1zM409 311v1h1v-1zM410 309v2h1v-2zM411 307v2h1v-2zM412 306v1h1v-1zM413 304v2h1v-2zM414 302v2h1v-2zM415 300v2h1v-2zM416 298v2h1v-2zM417 296v2h1v-2zM418 294v2h1v-2zM419 292v2h1v-2zM420 290v2h1v-2zM421 288v2h1v-2zM422 286v2h1v-2zM423 285v1h1v-1zM424 283v2h1v-2zM425 281v2h1v-2zM426 280v1h1v-1zM427 279v1h1v-1zM428 278v1h1v-1zM429 276v2h1v-2zM430 276v1h1v-1zM431 275v1h1v-1zM432 274v1h1v-1zM433 274v1h1v-1zM434 274v1h1v-1zM435 273v1h1v-1zM436 273v1h1v-1zM437 273v1h1v-1zM438 273v1h1v-1zM439 272v1h1v-1zM440 271v1h1v-1zM441 271v1h1v-1zM442 270v1h1v-1zM443 269v1h1v-1zM444 269v1h1v-1zM445 268v1h1v-1zM446 267v1h1v-1zM447 266v1h1v-1zM448 265v1h1v-1zM449 264v1h1v-1zM450 263v1h1v-1zM451 263v1h1v-1zM452 262v1h1v-1zM453 261v1h1v-1zM454 261v1h1v-1zM455 260v1h1v-1zM456 260v1h1v-1zM457 259v1h1v-1zM458 259v1h1v-1zM459 259v1h1v-1zM460 259v1h1v-1zM461 258v1h1v-1zM462 258v1h1v-1zM463 258v1h1v-1zM464 258v1h1v-1zM465 258v1h1v-1zM466 258v1h1v-1zM467 259v1h1v-1zM468 259v1h1v-1zM469 259v1h1v-1zM470 259v1h1v-1zM471 258v1h1v-1zM472 258v1h1v-1zM473 257v1h1v-1zM474 257v1h1v-1zM475 256v1h1v-1zM476 256v1h1v-1zM477 255v1h1v-1zM478 255v1h1v-1zM479 254v1h1v-1zM480 254v1h1v-1zM481 253v1h1v-1zM482 253v1h1v-1zM483 252v1h1v-1zM484 251v1h1v-1zM485 251v1h1v-1zM486 250v1h1v-1zM487 249v1h1v-1zM488 247v2h1v-2zM489 246v1h1v-1zM490 244v2h1v-2zM491 242v2h1v-2zM492 240v2h1v-2zM493 238v2h1v-2zM494 236v2h1v-2zM495 235v1h1v-1zM496 233v2h1v-2zM497 231v2h1v-2zM498 230v1h1v-1zM499 228v2h1v-2zM500 226v2h1v-2zM501 224v2h1v-2zM502 221v3h1v-3zM503 219v2h1v-2zM504 216v3h1v-3zM505 213v3h1v-3zM506 210v3h1v-3zM507 207v3h1v-3zM508 204v3h1v-3zM509 201v3h1v-3zM510 199v2h1v-2zM511 196v3h1v-3zM512 194v2h1v-2zM513 191v3h1v-3zM514 188v3h1v-3zM515 186v2h1v-2zM516 183v3h1v-3zM517 181v2h1v-2zM518 178v3h1v-3zM519 175v3h1v-3zM520 173v2h1v-2zM521 170v3h1v-3zM522 168v2h1v-2zM523 166v2h1v-2zM524 164v2h1v-2zM525 162v2h1v-2zM526 161v1h1v-1zM527 160v1h1v-1zM528 159v1h1v-1zM529 158v1h1v-1zM530 158v1h1v-1zM531 159v1h1v-1zM532 159v1h1v-1zM533 160v1h1v-1zM534 160v1h1v-1zM535 161v2h1v-2zM536 163v1h1v-1zM537 164v1h1v-1zM538 165v2h1v-2zM539 166v1h1v-1zM540 167v1h1v-1zM541 168v1h1v-1zM542 168v1h1v-1zM543 169v1h1v-1zM544 170v1h1v-1zM545 171v1h1v-1zM546 172v1h1v-1zM547 173v2h1v-2zM548 175v2h1v-2zM549 177v2h1v-2zM550 179v2h1v-2zM551 181v2h1v-2zM552 183v2h1v-2zM553 185v2h1v-2zM554 187v2h1v-2zM555 189v2h1v-2zM556 191v1h1v-1zM557 192v2h1v-2zM558 194v1h1v-1zM559 195v1h1v-1zM560 196v1h1v-1zM561 197v1h1v-1zM562 198v1h1v-1zM563 199v1h1v-1zM564 200v1h1v-1zM565 200v1h1v-1zM566 200v1h1v-1zM567 201v1h1v-1zM568 201v1h1v-1zM569 200v1h1v-1zM570 199v1h1v-1zM571 198v1h1v-1zM572 197v1h1v-1zM573 196v1h1v-1zM574 195v1h1v-1zM575 195v1h1v-1zM576 194v1h1v-1zM577 193v1h1v-1zM578 193v1h1v-1zM579 192v1h1v-1zM580 191v1h1v-1zM581 190v1h1v-1zM582 189v1h1v-1zM583 188v1h1v-1zM584 187v1h1v-1zM585 186v1h1v-1zM586 185v1h1v-1zM587 184v1h1v-1zM588 183v1h1v-1zM589 182v1h1v-1zM590 181v1h1v-1zM591 180v1h1v-1zM592 179v1h1v-1zM593 178v1h1v-1zM594 177v1h1v-1zM595 175v2h1v-2zM596 173v2h1v-2zM597 171v2h1v-2zM598 169v2h1v-2zM599 167v2h1v-2zM600 165v2h1v-2zM601 163v2h1v-2zM602 160v3h1v-3zM603 157v3h1v-3zM604 155v2h1v-2zM605 152v3h1v-3zM606 149v3h1v-3zM607 147v2h1v-2zM608 144v3h1v-3zM609 141v3h1v-3zM610 139v2h1v-2zM611 136v3h1v-3zM612 134v2h1v-2zM613 131v3h1v-3zM614 129v2h1v-2zM615 127v2h1v-2zM616 125v2h1v-2zM617 123v2h1v-2zM618 121v2h1v-2zM619 120v1h1v-1zM620 118v2h1v-2zM621 117v1h1v-1zM622 116v1h1v-1zM623 115v1h1v-1zM624 114v1h1v-1zM625 113v1h1v-1zM626 113v1h1v-1zM627 112v1h1v-1zM628 112v1h1v-1zM629 111v1h1v-1zM630 111v1h1v-1zM631 110v1h1v-1zM632 110v1h1v-1zM633 111v1h1v-1zM634 112v1h1v-1zM635 113v1h1v-1zM636 114v1h1v-1zM637 115v2h1v-2zM638 117v3h1v-3zM639 120v2h1v-2zM640 122v2h1v-2zM641 124v2h1v-2zM642 126v2h1v-2zM643 128v1h1v-1zM644 129v2h1v-2zM645 131v3h1v-3zM646 134v2h1v-2zM647 136v2h1v-2zM648 138v2h1v-2zM649 140v2h1v-2zM650 142v1h1v-1zM651 143v2h1v-2zM652 145v2h1v-2zM653 147v1h1v-1zM654 148v1h1v-1zM655 149v2h1v-2zM656 151v1h1v-1zM657 152v1h1v-1zM658 153v1h1v-1zM659 154v1h1v-1zM660 155v1h1v-1zM661 156v1h1v-1zM662 157v1h1v-1zM663 157v1h1v-1zM664 158v1h1v-1zM665 159v1h1v-1zM666 159v1h1v-1zM667 160v1h1v-1zM668 160v1h1v-1zM669 161v1h1v-1zM670 161v1h1v-1zM671 162v1h1v-1zM672 162v1h1v-1zM673 163v1h1v-1zM674 163v1h1v-1zM675 162v1h1v-1zM676 161v1h1v-1zM677 160v1h1v-1zM678 160v1h1v-1zM679 158v2h1v-2zM680 157v1h1v-1zM681 155v2h1v-2zM682 154v1h1v-1zM683 152v2h1v-2zM684 152v1h1v-1zM685 153v1h1v-1zM686 153v1h1v-1zM687 153v1h1v-1zM688 152v1h1v-1zM689 152v1h1v-1zM690 152v1h1v-1zM691 152v1h1v-1zM692 153v1h1v-1zM693 153v1h1v-1zM694 154v1h1v-1zM695 154v1h1v-1zM696 155v1h1v-1zM697 156v1h1v-1zM698 156v1h1v-1zM699 157v1h1v-1zM700 157v1h1v-1zM701 158v1h1v-1zM702 158v1h1v-1zM703 159v1h1v-1zM704 159v1h1v-1zM705 159v1h1v-1zM706 159v1h1v-1zM707 159v1h1v-1zM708 159v1h1v-1zM709 158v1h1v-1zM710 157v1h1v-1zM711 156v1h1v-1zM712 155v1h1v-1zM713 154v1h1v-1zM714 154v1h1v-1zM715 153v1h1v-1zM716 153v1h1v-1zM717 152v1h1v-1zM718 152v1h1v-1zM719 152v1h1v-1zM720 153v1h1v-1zM721 153v1h1v-1zM722 154v1h1v-1zM723 155v1h1v-1zM724 156v2h1v-2zM725 158v1h1v-1zM726 159v2h1v-2zM727 161v2h1v-2zM728 163v2h1v-2zM729 165v2h1v-2zM730 167v1h1v-1zM731 168v2h1v-2zM732 170v1h1v-1zM733 171v2h1v-2zM734 173v1h1v-1zM735 174v1h1v-1zM736 175v1h1v-1zM737 176v2h1v-2zM738 178v1h1v-1zM739 179v1h1v-1zM740 180v1h1v-1zM741 181v1h1v-1zM742 182v2h1v-2zM743 184v1h1v-1zM744 185v1h1v-1zM745 186v1h1v-1zM746 187v2h1v-2zM747 189v1h1v-1zM748 190v2h1v-2zM749 192v2h1v-2zM750 194v1h1v-1zM751 195v2h1v-2zM752 197v1h1v-1zM753 198v1h1v-1zM754 199v1h1v-1zM755 200v1h1v-1zM756 201v1h1v-1zM757 202v2h1v-2zM758 204v1h1v-1zM759 205v1h1v-1zM760 206v1h1v-1zM761 207v1h1v-1zM762 208v2h1v-2zM763 210v1h1v-1zM764 211v2h1v-2zM765 213v1h1v-1zM766 214v1h1v-1zM767 215v1h1v-1zM768 215v1h1v-1zM769 215v1h1v-1zM770 215v1h1v-1zM771 215v1h1v-1zM772 215v1h1v-1zM773 215v1h1v-1zM774 214v1h1v-1zM775 215v1h1v-1zM776 215v1h1v-1zM777 215v1h1v-1zM778 216v1h1v-1zM779 217v1h1v-1zM780 218v1h1v-1zM781 219v2h1v-2zM782 221v2h1v-2zM783 223v2h1v-2zM784 225v1h1v-1zM785 226v2h1v-2zM786 228v1h1v-1zM787 229v2h1v-2zM788 231v2h1v-2zM789 233v1h1v-1zM790 234v2h1v-2zM791 236v2h1v-2zM792 238v1h1v-1zM793 239v2h1v-2zM794 241v2h1v-2zM795 243v2h1v-2zM796 245v2h1v-2zM797 247v2h1v-2zM798 249v2h1v-2zM799 251v1h1v-1zM800 252v2h1v-2zM801 254v1h1v-1zM802 255v1h1v-1zM803 256v1h1v-1zM804 257v1h1v-1zM805 258v1h1v-1zM806 259v1h1v-1zM807 260v1h1v-1zM808 261v1h1v-1zM809 262v1h1v-1zM810 263v1h1v-1zM811 264v1h1v-1zM812 265v2h1v-2zM813 267v1h1v-1zM814 268v2h1v-2zM815 270v1h1v-1zM816 271v2h1v-2zM817 273v1h1v-1zM818 274v1h1v-1zM819 275v1h1v-1zM820 275v1h1v-1zM821 275v1h1v-1zM822 275v1h1v-1zM823 275v1h1v-1zM824 275v1h1v-1zM825 274v1h1v-1zM826 274v1h1v-1zM827 273v1h1v-1zM828 273v1h1v-1zM829 272v1h1v-1zM830 272v1h1v-1zM831 272v1h1v-1zM832 272v1h1v-1zM833 271v1h1v-1zM834 271v1h1v-1zM835 270v1h1v-1zM836 269v1h1v-1zM837 269v1h1v-1zM838 268v1h1v-1zM839 268v1h1v-1zM840 268v1h1v-1zM841 267v1h1v-1zM842 267v1h1v-1zM843 267v1h1v-1zM844 266v1h1v-1zM845 266v1h1v-1zM846 266v1h1v-1zM847 266v1h1v-1zM848 266v1h1v-1zM849 266v1h1v-1zM850 266v1h1v-1zM851 267v1h1v-1zM852 267v1h1v-1zM853 268v2h1v-2zM854 270v3h1v-3zM855 273v2h1v-2zM856 275v2h1v-2zM857 277v1h1v-1zM858 278v2h1v-2zM859 280v2h1v-2zM860 282v2h1v-2zM861 284v2h1v-2zM862 286v2h1v-2zM863 288v2h1v-2zM864 290v2h1v-2zM865 292v2h1v-2zM866 294v2h1v-2zM867 296v1h1v-1zM868 297v2h1v-2zM869 299v1h1v-1zM870 299v1h1v-1zM871 300v1h1v-1zM872 301v1h1v-1zM873 302v2h1v-2zM874 304v2h1v-2zM875 306v2h1v-2zM876 308v3h1v-3zM877 311v2h1v-2zM878 313v2h1v-2zM879 315v3h1v-3zM880 318v2h1v-2zM881 320v3h1v-3zM882 323v2h1v-2zM883 325v1h1v-1zM884 326v2h1v-2zM885 328v2h1v-2zM886 330v2h1v-2zM887 332v2h1v-2zM888 334v2h1v-2zM889 336v1h1v-1zM890 337v1h1v-1zM891 338v1h1v-1zM892 338v1h1v-1zM893 338v1h1v-1zM894 338v1h1v-1zM895 338v1h1v-1zM896 338v1h1v-1zM897 338v1h1v-1zM898 338v1h1v-1zM899 338v1h1v-1zM900 338v1h1v-1zM901 338v1h1v-1zM902 338v1h1v-1zM903 338v1h1v-1zM904 338v1h1v-1zM905 339v1h1v-1zM906 339v1h1v-1zM907 340v1h1v-1zM908 341v1h1v-1zM909 342v1h1v-1zM910 342v1h1v-1zM911 343v1h1v-1zM912 343v1h1v-1zM913 343v1h1v-1zM914 342v1h1v-1zM915 342v1h1v-1zM916 342v1h1v-1zM917 342v1h1v-1zM918 342v1h1v-1zM919 342v1h1v-1zM920 342v1h1v-1zM921 341v1h1v-1zM922 341v1h1v-1zM923 340v1h1v-1zM924 339v1h1v-1zM925 338v1h1v-1zM926 338v1h1v-1zM927 338v1h1v-1z" fill="#0000d8"/>
<path d="M3 256v1h1v-1zM4 256v1h1v-1zM5 256v1h1v-1zM6 257v1h1v-1zM7 257v1h1v-1zM8 257v1h1v-1zM9 257v1h1v-1zM10 258v1h1v-1zM11 258v1h1v-1zM12 259v1h1v-1zM13 259v1h1v-1zM14 260v1h1v-1zM15 261v1h1v-1zM16 261v1h1v-1zM17 262v1h1v-1zM18 263v1h1v-1zM19 263v1h1v-1zM20 264v1h1v-1zM21 264v1h1v-1zM22 264v1h1v-1zM23 264v1h1v-1zM24 264v1h1v-1zM25 264v1h1v-1zM26 264v1h1v-1zM27 263v1h1v-1zM28 262v1h1v-1zM29 262v1h1v-1zM30 261v1h1v-1zM31 261v1h1v-1zM32 261v1h1v-1zM33 261v1h1v-1zM34 261v1h1v-1zM35 262v1h1v-1zM36 262v1h1v-1zM37 263v1h1v-1zM38 264v1h1v-1zM39 265v1h1v-1zM40 266v1h1v-1zM41 267v2h1v-2zM42 269v1h1v-1zM43 270v1h1v-1zM44 271v1h1v-1zM45 272v1h1v-1zM46 273v1h1v-1zM47 274v3h1v-3zM48 277v4h1v-4zM49 281v2h1v-2zM50 283v2h1v-2zM51 285v3h1v-3zM52 288v3h1v-3zM53 291v2h1v-2zM54 293v2h1v-2zM55 295v3h1v-3zM56 298v2h1v-2zM57 300v2h1v-2zM58 302v3h1v-3zM59 305v2h1v-2zM60 307v2h1v-2zM61 309v2h1v-2zM62 311v3h1v-3zM63 314v2h1v-2zM64 316v3h1v-3zM65 319v2h1v-2zM66 321v2h1v-2zM67 323v3h1v-3zM68 326v4h1v-4zM69 330v4h1v-4zM70 334v4h1v-4zM71 338v4h1v-4zM72 342v4h1v-4zM73 346v4h1v-4zM74 350v4h1v-4zM75 354v3h1v-3zM76 357v2h1v-2zM77 359v3h1v-3zM78 362v3h1v-3zM79 365v3h1v-3zM80 368v3h1v-3zM81 371v3h1v-3zM82 374v3h1v-3zM83 377v5h1v-5zM84 382v5h1v-5zM85 387v5h1v-5zM86 392v4h1v-4zM87 396v4h1v-4zM88 400v4h1v-4zM89 404v4h1v-4zM90 408v3h1v-3zM91 411v2h1v-2zM92 413v2h1v-2zM93 415v3h1v-3zM94 418v2h1v-2zM95 420v2h1v-2zM96 422v2h1v-2zM97 424v2h1v-2zM98 425v1h1v-1zM99 426v1h1v-1zM100 426v1h1v-1zM101 427v1h1v-1zM102 427v1h1v-1zM103 428v1h1v-1zM104 429v1h1v-1zM105 430v1h1v-1zM106 431v1h1v-1zM107 432v1h1v-1zM108 433v1h1v-1zM109 434v1h1v-1zM110 435v1h1v-1zM111 436v1h1v-1zM112 437v1h1v-1zM113 438v1h1v-1zM114 438v1h1v-1zM115 439v1h1v-1zM116 439v1h1v-1zM117 440v1h1v-1zM118 440v1h1v-1zM119 440v1h1v-1zM120 440v1h1v-1zM121 440v1h1v-1zM122 440v1h1v-1zM123 439v1h1v-1zM124 438v1h1v-1zM125 438v1h1v-1zM126 437v1h1v-1zM127 436v1h1v-1zM128 435v1h1v-1zM129 434v1h1v-1zM130 432v2h1v-2zM131 431v1h1v-1zM132 430v1h1v-1zM133 429v1h1v-1zM134 428v1h1v-1zM135 427v1h1v-1zM136 426v1h1v-1zM137 425v1h1v-1zM138 423v2h1v-2zM139 421v2h1v-2zM140 420v1h1v-1zM141 415v5h1v-5zM142 411v4h1v-4zM143 407v4h1v-4zM144 403v4h1v-4zM145 398v5h1v-5zM146 394v4h1v-4zM147 391v3h1v-3zM148 387v4h1v-4zM149 384v3h1v-3zM150 380v4h1v-4zM151 376v4h1v-4zM152 371v5h1v-5zM153 366v5h1v-5zM154 361v5h1v-5zM155 356v5h1v-5zM156 351v5h1v-5zM157 345v6h1v-6zM158 339v6h1v-6zM159 334v5h1v-5zM160 328v6h1v-6zM161 322v6h1v-6zM162 316v6h1v-6zM163 309v7h1v-7zM164 302v7h1v-7zM165 296v6h1v-6zM166 289v7h1v-7zM167 283v6h1v-6zM168 278v5h1v-5zM169 272v6h1v-6zM170 267v5h1v-5zM171 262v5h1v-5zM172 257v5h1v-5zM173 253v4h1v-4zM174 248v5h1v-5zM175 244v4h1v-4zM176 242v2h1v-2zM177 240v2h1v-2zM178 238v2h1v-2zM179 236v2h1v-2zM180 234v2h1v-2zM181 232v2h1v-2zM182 231v1h1v-1zM183 230v1h1v-1zM184 229v1h1v-1zM185 228v1h1v-1zM186 227v1h1v-1zM187 227v1h1v-1zM188 226v1h1v-1zM189 225v1h1v-1zM190 224v1h1v-1zM191 224v1h1v-1zM192 223v1h1v-1zM193 223v1h1v-1zM194 222v1h1v-1zM195 222v1h1v-1zM196 222v1h1v-1zM197 222v1h1v-1zM198 223v1h1v-1zM199 223v1h1v-1zM200 223v1h1v-1zM201 224v1h1v-1zM202 225v2h1v-2zM203 227v2h1v-2zM204 229v1h1v-1zM205 230v3h1v-3zM206 233v2h1v-2zM207 235v3h1v-3zM208 238v2h1v-2zM209 240v3h1v-3zM210 243v3h1v-3zM211 246v3h1v-3zM212 249v4h1v-4zM213 253v3h1v-3zM214 256v4h1v-4zM215 260v3h1v-3zM216 263v5h1v-5zM217 268v4h1v-4zM218 272v5h1v-5zM219 277v4h1v-4zM220 281v4h1v-4zM221 285v5h1v-5zM222 290v4h1v-4zM223 294v5h1v-5zM224 299v4h1v-4zM225 303v5h1v-5zM226 308v4h1v-4zM227 312v4h1v-4zM228 316v4h1v-4zM229 320v3h1v-3zM230 323v4h1v-4zM231 327v1h1v-1zM232 328v2h1v-2zM233 330v2h1v-2zM234 332v1h1v-1zM235 333v1h1v-1zM236 334v1h1v-1zM237 334v1h1v-1zM238 335v1h1v-1zM239 333v2h1v-2zM240 331v2h1v-2zM241 329v2h1v-2zM242 327v2h1v-2zM243 324v3h1v-3zM244 322v2h1v-2zM245 319v3h1v-3zM246 316v3h1v-3zM247 314v2h1v-2zM248 312v2h1v-2zM249 310v2h1v-2zM250 308v2h1v-2zM251 305v3h1v-3zM252 302v3h1v-3zM253 300v2h1v-2zM254 297v3h1v-3zM255 295v2h1v-2zM256 294v1h1v-1zM257 292v2h1v-2zM258 291v1h1v-1zM259 289v2h1v-2zM260 288v1h1v-1zM261 286v2h1v-2zM262 285v1h1v-1zM263 284v1h1v-1zM264 284v1h1v-1zM265 283v1h1v-1zM266 283v1h1v-1zM267 283v1h1v-1zM268 283v1h1v-1zM269 283v1h1v-1zM270 283v1h1v-1zM271 284v1h1v-1zM272 285v1h1v-1zM273 286v1h1v-1zM274 287v1h1v-1zM275 288v2h1v-2zM276 290v2h1v-2zM277 292v2h1v-2zM278 294v2h1v-2zM279 296v2h1v-2zM280 298v2h1v-2zM281 300v2h1v-2zM282 302v2h1v-2zM283 304v2h1v-2zM284 306v2h1v-2zM285 308v1h1v-1zM286 309v2h1v-2zM287 311v2h1v-2zM288 313v2h1v-2zM289 315v1h1v-1zM290 316v2h1v-2zM291 318v2h1v-2zM292 320v1h1v-1zM293 321v2h1v-2zM294 323v2h1v-2zM295 325v1h1v-1zM296 326v1h1v-1zM297 327v2h1v-2zM298 329v1h1v-1zM299 330v1h1v-1zM300 331v1h1v-1zM301 331v1h1v-1zM302 332v1h1v-1zM303 332v1h1v-1zM304 332v1h1v-1zM305 331v1h1v-1zM306 331v1h1v-1zM307 330v1h1v-1zM308 328v2h1v-2zM309 326v2h1v-2zM310 325v1h1v-1zM311 323v2h1v-2zM312 320v3h1v-3zM313 318v2h1v-2zM314 316v2h1v-2zM315 314v2h1v-2zM316 312v2h1v-2zM317 311v1h1v-1zM318 309v2h1v-2zM319 308v1h1v-1zM320 306v2h1v-2zM321 306v1h1v-1zM322 304v2h1v-2zM323 304v1h1v-1zM324 305v1h1v-1zM325 306v1h1v-1zM326 306v1h1v-1zM327 307v1h1v-1zM328 308v1h1v-1zM329 309v1h1v-1zM330 310v1h1v-1zM331 311v1h1v-1zM332 310v1h1v-1zM333 310v1h1v-1zM334 309v1h1v-1zM335 309v1h1v-1zM336 309v1h1v-1zM337 308v1h1v-1zM338 308v1h1v-1zM339 308v1h1v-1zM340 309v1h1v-1zM341 310v1h1v-1zM342 311v1h1v-1zM343 312v1h1v-1zM344 313v2h1v-2zM345 315v2h1v-2zM346 317v2h1v-2zM347 318v1h1v-1zM348 319v1h1v-1zM349 319v1h1v-1zM350 320v1h1v-1zM351 319v1h1v-1zM352 317v2h1v-2zM353 316v1h1v-1zM354 315v1h1v-1zM355 312v3h1v-3zM356 310v2h1v-2zM357 308v2h1v-2zM358 306v2h1v-2zM359 305v1h1v-1zM360 304v1h1v-1zM361 304v1h1v-1zM362 304v1h1v-1zM363 304v1h1v-1zM364 304v1h1v-1zM365 305v1h1v-1zM366 306v1h1v-1zM367 307v1h1v-1zM368 308v1h1v-1zM369 307v1h1v-1zM370 306v1h1v-1zM371 306v1h1v-1zM372 305v1h1v-1zM373 305v1h1v-1zM374 305v1h1v-1zM375 305v1h1v-1zM376 306v1h1v-1zM377 307v1h1v-1zM378 308v1h1v-1zM379 309v1h1v-1zM380 310v1h1v-1zM381 311v1h1v-1zM382 312v1h1v-1zM383 313v1h1v-1zM384 314v1h1v-1zM385 314v1h1v-1zM386 315v1h1v-1zM387 316v1h1v-1zM388 316v1h1v-1zM389 316v1h1v-1zM390 316v1h1v-1zM391 316v1h1v-1zM392 316v1h1v-1zM393 316v1h1v-1zM394 315v1h1v-1zM395 315v1h1v-1zM396 315v1h1v-1zM397 315v1h1v-1zM398 315v1h1v-1zM399 316v1h1v-1zM400 316v1h1v-1zM401 316v1h1v-1zM402 317v1h1v-1zM403 317v1h1v-1zM404 317v1h1v-1zM405 316v1h1v-1zM406 315v1h1v-1zM407 314v1h1v-1zM408 311v3h1v-3zM409 309v2h1v-2zM410 307v2h1v-2zM411 304v3h1v-3zM412 301v3h1v-3zM413 299v2h1v-2zM414 296v3h1v-3zM415 293v3h1v-3zM416 291v2h1v-2zM417 288v3h1v-3zM418 286v2h1v-2zM419 283v3h1v-3zM420 280v3h1v-3zM421 277v3h1v-3zM422 275v2h1v-2zM423 272v3h1v-3zM424 270v2h1v-2zM425 267v3h1v-3zM426 265v2h1v-2zM427 263v2h1v-2zM428 261v2h1v-2zM429 260v1h1v-1zM430 258v2h1v-2zM431 257v1h1v-1zM432 256v1h1v-1zM433 255v1h1v-1zM434 255v1h1v-1zM435 255v1h1v-1zM436 255v1h1v-1zM437 256v1h1v-1zM438 256v1h1v-1zM439 257v2h1v-2zM440 259v1h1v-1zM441 260v1h1v-1zM442 261v2h1v-2zM443 263v2h1v-2zM444 265v1h1v-1zM445 266v2h1v-2zM446 268v1h1v-1zM447 269v1h1v-1zM448 270v1h1v-1zM449 271v1h1v-1zM450 272v1h1v-1zM451 271v1h1v-1zM452 271v1h1v-1zM453 271v1h1v-1zM454 270v1h1v-1zM455 268v2h1v-2zM456 267v1h1v-1zM457 266v1h1v-1zM458 264v2h1v-2zM459 263v1h1v-1zM460 261v2h1v-2zM461 259v2h1v-2zM462 258v1h1v-1zM463 256v2h1v-2zM464 254v2h1v-2zM465 253v1h1v-1zM466 251v2h1v-2zM467 249v2h1v-2zM468 248v1h1v-1zM469 246v2h1v-2zM470 245v1h1v-1zM471 244v1h1v-1zM472 243v1h1v-1zM473 242v1h1v-1zM474 242v1h1v-1zM475 241v1h1v-1zM476 241v1h1v-1zM477 241v1h1v-1zM478 242v1h1v-1zM479 242v1h1v-1zM480 243v2h1v-2zM481 245v1h1v-1zM482 246v1h1v-1zM483 247v2h1v-2zM484 248v1h1v-1zM485 249v1h1v-1zM486 250v1h1v-1zM487 250v1h1v-1zM488 248v2h1v-2zM489 246v2h1v-2zM490 243v3h1v-3zM491 241v2h1v-2zM492 239v2h1v-2zM493 237v2h1v-2zM494 235v2h1v-2zM495 233v2h1v-2zM496 232v1h1v-1zM497 232v1h1v-1zM498 226v6h1v-6zM499 220v6h1v-6zM500 216v4h1v-4zM501 213v3h1v-3zM502 210v3h1v-3zM503 207v3h1v-3zM504 203v4h1v-4zM505 198v5h1v-5zM506 194v4h1v-4zM507 189v5h1v-5zM508 184v5h1v-5zM509 178v6h1v-6zM510 173v5h1v-5zM511 167v6h1v-6zM512 162v5h1v-5zM513 157v5h1v-5zM514 153v4h1v-4zM515 151v2h1v-2zM516 149v2h1v-2zM517 147v2h1v-2zM518 144v3h1v-3zM519 144v1h1v-1zM520 143v1h1v-1zM521 142v1h1v-1zM522 142v1h1v-1zM523 141v1h1v-1zM524 142v1h1v-1zM525 143v1h1v-1zM526 144v1h1v-1zM527 145v1h1v-1zM528 146v1h1v-1zM529 147v2h1v-2zM530 149v1h1v-1zM531 150v2h1v-2zM532 152v4h1v-4zM533 156v4h1v-4zM534 160v4h1v-4zM535 164v4h1v-4zM536 168v4h1v-4zM537 172v4h1v-4zM538 176v4h1v-4zM539 180v4h1v-4zM540 184v3h1v-3zM541 187v2h1v-2zM542 189v2h1v-2zM543 191v3h1v-3zM544 194v1h1v-1zM545 195v1h1v-1zM546 196v1h1v-1zM547 197v1h1v-1zM548 198v1h1v-1zM549 199v1h1v-1zM550 200v1h1v-1zM551 201v1h1v-1zM552 202v1h1v-1zM553 202v1h1v-1zM554 202v1h1v-1zM555 202v1h1v-1zM556 202v1h1v-1zM557 202v1h1v-1zM558 201v1h1v-1zM559 201v1h1v-1zM560 200v1h1v-1zM561 199v1h1v-1zM562 199v1h1v-1zM563 199v1h1v-1zM564 198v1h1v-1zM565 198v1h1v-1zM566 197v1h1v-1zM567 196v1h1v-1zM568 195v1h1v-1zM569 194v1h1v-1zM570 194v1h1v-1zM571 193v1h1v-1zM572 193v1h1v-1zM573 192v1h1v-1zM574 192v1h1v-1zM575 192v1h1v-1zM576 192v1h1v-1zM577 191v1h1v-1zM578 191v1h1v-1zM579 190v1h1v-1zM580 189v1h1v-1zM581 188v1h1v-1zM582 187v1h1v-1zM583 186v1h1v-1zM584 185v1h1v-1zM585 184v1h1v-1zM586 183v1h1v-1zM587 181v2h1v-2zM588 179v2h1v-2zM589 177v2h1v-2zM590 176v1h1v-1zM591 173v3h1v-3zM592 171v2h1v-2zM593 169v2h1v-2zM594 167v2h1v-2zM595 164v3h1v-3zM596 162v2h1v-2zM597 160v2h1v-2zM598 157v3h1v-3zM599 154v3h1v-3zM600 151v3h1v-3zM601 148v3h1v-3zM602 145v3h1v-3zM603 141v4h1v-4zM604 138v3h1v-3zM605 135v3h1v-3zM606 132v3h1v-3zM607 129v3h1v-3zM608 126v3h1v-3zM609 123v3h1v-3zM610 120v3h1v-3zM611 117v3h1v-3zM612 115v2h1v-2zM613 113v2h1v-2zM614 111v2h1v-2zM615 109v2h1v-2zM616 107v2h1v-2zM617 105v2h1v-2zM618 104v1h1v-1zM619 102v2h1v-2zM620 101v1h1v-1zM621 100v1h1v-1zM622 99v1h1v-1zM623 98v1h1v-1zM624 98v1h1v-1zM625 98v1h1v-1zM626 98v1h1v-1zM627 99v1h1v-1zM628 100v1h1v-1zM629 101v1h1v-1zM630 102v2h1v-2zM631 104v3h1v-3zM632 107v3h1v-3zM633 110v4h1v-4zM634 114v3h1v-3zM635 117v4h1v-4zM636 121v4h1v-4zM637 125v5h1v-5zM638 130v4h1v-4zM639 134v4h1v-4zM640 138v3h1v-3zM641 141v4h1v-4zM642 145v3h1v-3zM643 148v3h1v-3zM644 151v2h1v-2zM645 153v3h1v-3zM646 156v2h1v-2zM647 158v2h1v-2zM648 160v1h1v-1zM649 161v1h1v-1zM650 162v1h1v-1zM651 163v1h1v-1zM652 163v1h1v-1zM653 163v1h1v-1zM654 164v1h1v-1zM655 164v1h1v-1zM656 164v1h1v-1zM657 164v1h1v-1zM658 163v1h1v-1zM659 163v1h1v-1zM660 162v1h1v-1zM661 161v1h1v-1zM662 160v1h1v-1zM663 159v1h1v-1zM664 158v1h1v-1zM665 157v1h1v-1zM666 156v1h1v-1zM667 155v1h1v-1zM668 154v1h1v-1zM669 154v1h1v-1zM670 153v1h1v-1zM671 153v1h1v-1zM672 153v1h1v-1zM673 153v1h1v-1zM674 152v1h1v-1zM675 152v1h1v-1zM676 151v1h1v-1zM677 151v1h1v-1zM678 150v1h1v-1zM679 149v1h1v-1zM680 149v1h1v-1zM681 149v1h1v-1zM682 150v1h1v-1zM683 150v1h1v-1zM684 151v1h1v-1zM685 151v1h1v-1zM686 152v1h1v-1zM687 152v1h1v-1zM688 153v1h1v-1zM689 153v1h1v-1zM690 154v1h1v-1zM691 154v1h1v-1zM692 154v1h1v-1zM693 154v1h1v-1zM694 155v1h1v-1zM695 155v1h1v-1zM696 156v1h1v-1zM697 157v1h1v-1zM698 157v1h1v-1zM699 158v1h1v-1zM700 158v1h1v-1zM701 158v1h1v-1zM702 158v1h1v-1zM703 159v1h1v-1zM704 159v1h1v-1zM705 160v1h1v-1zM706 160v1h1v-1zM707 159v1h1v-1zM708 159v1h1v-1zM709 158v1h1v-1zM710 158v1h1v-1zM711 157v1h1v-1zM712 156v1h1v-1zM713 155v1h1v-1zM714 155v1h1v-1zM715 154v1h1v-1zM716 154v1h1v-1zM717 153v1h1v-1zM718 153v1h1v-1zM719 153v1h1v-1zM720 154v1h1v-1zM721 154v1h1v-1zM722 155v1h1v-1zM723 156v2h1v-2zM724 158v1h1v-1zM725 159v2h1v-2zM726 161v2h1v-2zM727 163v2h1v-2zM728 165v2h1v-2zM729 167v2h1v-2zM730 169v3h1v-3zM731 172v3h1v-3zM732 175v3h1v-3zM733 178v3h1v-3zM734 181v2h1v-2zM735 183v3h1v-3zM736 186v3h1v-3zM737 189v3h1v-3zM738 192v3h1v-3zM739 195v2h1v-2zM740 197v3h1v-3zM741 200v2h1v-2zM742 202v2h1v-2zM743 204v2h1v-2zM744 206v2h1v-2zM745 208v2h1v-2zM746 210v1h1v-1zM747 211v1h1v-1zM748 212v1h1v-1zM749 212v1h1v-1zM750 211v1h1v-1zM751 210v1h1v-1zM752 210v1h1v-1zM753 210v1h1v-1zM754 209v1h1v-1zM755 209v1h1v-1zM756 208v1h1v-1zM757 207v1h1v-1zM758 207v1h1v-1zM759 208v1h1v-1zM760 208v1h1v-1zM761 209v1h1v-1zM762 210v1h1v-1zM763 211v1h1v-1zM764 212v1h1v-1zM765 213v1h1v-1zM766 214v2h1v-2zM767 216v1h1v-1zM768 217v1h1v-1zM769 218v1h1v-1zM770 219v1h1v-1zM771 220v1h1v-1zM772 220v1h1v-1zM773 220v1h1v-1zM774 220v1h1v-1zM775 220v1h1v-1zM776 221v1h1v-1zM777 221v1h1v-1zM778 222v1h1v-1zM779 223v1h1v-1zM780 224v1h1v-1zM781 225v2h1v-2zM782 227v2h1v-2zM783 229v2h1v-2zM784 231v2h1v-2zM785 233v2h1v-2zM786 235v1h1v-1zM787 236v1h1v-1zM788 237v2h1v-2zM789 239v1h1v-1zM790 240v1h1v-1zM791 241v1h1v-1zM792 242v1h1v-1zM793 243v1h1v-1zM794 244v1h1v-1zM795 245v1h1v-1zM796 246v2h1v-2zM797 248v2h1v-2zM798 250v2h1v-2zM799 252v3h1v-3zM800 255v2h1v-2zM801 257v3h1v-3zM802 260v3h1v-3zM803 263v4h1v-4zM804 267v2h1v-2zM805 269v3h1v-3zM806 272v3h1v-3zM807 275v2h1v-2zM808 277v2h1v-2zM809 279v2h1v-2zM810 281v2h1v-2zM811 283v1h1v-1zM812 283v1h1v-1zM813 284v1h1v-1zM814 284v1h1v-1zM815 284v1h1v-1zM816 284v1h1v-1zM817 283v1h1v-1zM818 282v1h1v-1zM819 281v1h1v-1zM820 279v2h1v-2zM821 278v1h1v-1zM822 276v2h1v-2zM823 275v1h1v-1zM824 273v2h1v-2zM825 272v1h1v-1zM826 271v1h1v-1zM827 269v2h1v-2zM828 267v2h1v-2zM829 266v1h1v-1zM830 264v2h1v-2zM831 263v1h1v-1zM832 262v1h1v-1zM833 260v2h1v-2zM834 259v1h1v-1zM835 258v1h1v-1zM836 258v1h1v-1zM837 258v1h1v-1zM838 258v1h1v-1zM839 258v1h1v-1zM840 258v1h1v-1zM841 259v1h1v-1zM842 259v1h1v-1zM843 260v1h1v-1zM844 260v1h1v-1zM845 261v1h1v-1zM846 262v1h1v-1zM847 263v1h1v-1zM848 263v1h1v-1zM849 264v1h1v-1zM850 265v2h1v-2zM851 267v1h1v-1zM852 268v2h1v-2zM853 270v3h1v-3zM854 273v3h1v-3zM855 276v4h1v-4zM856 280v3h1v-3zM857 283v4h1v-4zM858 287v4h1v-4zM859 291v3h1v-3zM860 294v4h1v-4zM861 298v4h1v-4zM862 302v3h1v-3zM863 305v2h1v-2zM864 307v3h1v-3zM865 310v2h1v-2zM866 312v1h1v-1zM867 313v1h1v-1zM868 314v1h1v-1zM869 315v1h1v-1zM870 316v1h1v-1zM871 317v1h1v-1zM872 318v2h1v-2zM873 320v1h1v-1zM874 321v2h1v-2zM875 323v4h1v-4zM876 327v3h1v-3zM877 330v2h1v-2zM878 332v3h1v-3zM879 335v2h1v-2zM880 337v2h1v-2zM881 339v2h1v-2zM882 340v1h1v-1zM883 340v1h1v-1zM884 341v1h1v-1zM885 340v1h1v-1zM886 340v1h1v-1zM887 339v1h1v-1zM888 338v1h1v-1zM889 337v1h1v-1zM890 337v1h1v-1zM891 337v1h1v-1zM892 338v1h1v-1zM893 339v1h1v-1zM894 340v1h1v-1zM895 340v1h1v-1zM896 341v1h1v-1zM897 342v2h1v-2zM898 344v1h1v-1zM899 345v2h1v-2zM900 347v1h1v-1zM901 348v1h1v-1zM902 349v1h1v-1zM903 349v1h1v-1zM904 350v1h1v-1zM905 349v1h1v-1zM906 348v1h1v-1zM907 347v1h1v-1zM908 346v1h1v-1zM909 345v1h1v-1zM910 344v1h1v-1zM911 343v1h1v-1zM912 342v1h1v-1zM913 341v1h1v-1zM914 340v1h1v-1zM915 340v1h1v-1zM916 341v1h1v-1zM917 342v1h1v-1zM918 342v1h1v-1zM919 342v1h1v-1zM920 342v1h1v-1zM921 342v1h1v-1zM922 341v1h1v-1zM923 340v1h1v-1zM924 339v1h1v-1zM925 338v1h1v-1zM926 337v1h1v-1zM927 337v1h1v-1z" fill="#ff0000"/>
<path d="M3 533h2v1h-2zM5 534h2v1h-2zM7 534h2v1h-2zM9 534h2v2h-2zM11 534h2v2h-2zM13 534h2v2h-2zM15 534h2v1h-2zM17 534h2v1h-2zM19 532h2v2h-2zM21 531h2v3h-2zM23 530h2v4h-2zM25 530h2v4h-2zM27 530h2v4h-2zM29 531h2v3h-2zM31 532h2v2h-2zM33 534h2v1h-2zM35 534h2v2h-2zM37 534h2v4h-2zM39 534h2v6h-2zM41 534h2v7h-2zM43 534h2v9h-2zM45 534h2v10h-2zM47 534h2v11h-2zM49 534h2v13h-2zM51 534h2v13h-2zM53 534h2v14h-2zM55 534h2v14h-2zM57 534h2v15h-2zM59 534h2v16h-2zM61 534h2v18h-2zM63 534h2v21h-2zM65 534h2v23h-2zM67 534h2v26h-2zM69 534h2v28h-2zM71 534h2v30h-2zM73 534h2v31h-2zM75 534h2v32h-2zM77 534h2v32h-2zM79 534h2v33h-2zM81 534h2v32h-2zM83 534h2v32h-2zM85 534h2v32h-2zM87 534h2v31h-2zM89 534h2v30h-2zM91 534h2v29h-2zM93 534h2v28h-2zM95 534h2v28h-2zM97 534h2v27h-2zM99 534h2v26h-2zM101 534h2v25h-2zM103 534h2v24h-2zM105 534h2v23h-2zM107 534h2v23h-2zM109 534h2v22h-2zM111 534h2v21h-2zM113 534h2v21h-2zM115 534h2v20h-2zM117 534h2v19h-2zM119 534h2v18h-2zM121 534h2v15h-2zM123 534h2v12h-2zM125 534h2v9h-2zM127 534h2v7h-2zM129 534h2v5h-2zM131 534h2v4h-2zM133 534h2v3h-2zM135 534h2v2h-2zM137 534h2v1h-2zM139 533h2v1h-2zM141 529h2v5h-2zM143 524h2v10h-2zM145 520h2v14h-2zM147 516h2v18h-2zM149 513h2v21h-2zM151 510h2v24h-2zM153 506h2v28h-2zM155 504h2v30h-2zM157 501h2v33h-2zM159 498h2v36h-2zM161 495h2v39h-2zM163 494h2v40h-2zM165 493h2v41h-2zM167 492h2v42h-2zM169 492h2v42h-2zM171 492h2v42h-2zM173 493h2v41h-2zM175 493h2v41h-2zM177 494h2v40h-2zM179 496h2v38h-2zM181 498h2v36h-2zM183 500h2v34h-2zM185 502h2v32h-2zM187 503h2v31h-2zM189 505h2v29h-2zM191 506h2v28h-2zM193 508h2v26h-2zM195 509h2v25h-2zM197 510h2v24h-2zM199 511h2v23h-2zM201 512h2v22h-2zM203 518h2v16h-2zM205 527h2v7h-2zM207 533h2v1h-2zM209 534h2v3h-2zM211 534h2v7h-2zM213 534h2v12h-2zM215 534h2v15h-2zM217 534h2v16h-2zM219 534h2v18h-2zM221 534h2v19h-2zM223 534h2v20h-2zM225 534h2v21h-2zM227 534h2v21h-2zM229 534h2v19h-2zM231 534h2v17h-2zM233 534h2v16h-2zM235 534h2v15h-2zM237 534h2v13h-2zM239 534h2v10h-2zM241 534h2v5h-2zM243 534h2v3h-2zM245 534h2v1h-2zM247 533h2v1h-2zM249 532h2v2h-2zM251 531h2v3h-2zM253 530h2v4h-2zM255 530h2v4h-2zM257 530h2v4h-2zM259 531h2v3h-2zM261 532h2v2h-2zM263 533h2v1h-2zM265 533h2v1h-2zM267 533h2v1h-2zM269 534h2v1h-2zM271 534h2v1h-2zM273 534h2v3h-2zM275 534h2v5h-2zM277 534h2v7h-2zM279 534h2v8h-2zM281 534h2v9h-2zM283 534h2v10h-2zM285 534h2v11h-2zM287 534h2v12h-2zM289 534h2v12h-2zM291 534h2v11h-2zM293 534h2v10h-2zM295 534h2v10h-2zM297 534h2v9h-2zM299 534h2v9h-2zM301 534h2v8h-2zM303 534h2v7h-2zM305 534h2v5h-2zM307 534h2v2h-2zM309 533h2v1h-2zM311 531h2v3h-2zM313 529h2v5h-2zM315 528h2v6h-2zM317 528h2v6h-2zM319 528h2v6h-2zM321 528h2v6h-2zM323 531h2v3h-2zM325 534h2v2h-2zM327 534h2v5h-2zM329 534h2v7h-2zM331 534h2v6h-2zM333 534h2v5h-2zM335 534h2v2h-2zM337 534h2v1h-2zM339 533h2v1h-2zM341 533h2v1h-2zM343 534h2v1h-2zM345 534h2v1h-2zM347 534h2v1h-2zM349 534h2v1h-2zM351 533h2v1h-2zM353 531h2v3h-2zM355 530h2v4h-2zM357 530h2v4h-2zM359 531h2v3h-2zM361 532h2v2h-2zM363 533h2v1h-2zM365 533h2v1h-2zM367 533h2v1h-2zM369 533h2v1h-2zM371 533h2v1h-2zM373 534h2v1h-2zM375 534h2v1h-2zM377 534h2v2h-2zM379 534h2v3h-2zM381 534h2v4h-2zM383 534h2v4h-2zM385 534h2v5h-2zM387 534h2v4h-2zM389 534h2v4h-2zM391 534h2v3h-2zM393 534h2v2h-2zM395 534h2v1h-2zM397 534h2v1h-2zM399 534h2v1h-2zM401 534h2v1h-2zM403 534h2v1h-2zM405 534h2v1h-2zM407 532h2v2h-2zM409 529h2v5h-2zM411 526h2v8h-2zM413 524h2v10h-2zM415 522h2v12h-2zM417 520h2v14h-2zM419 518h2v16h-2zM421 517h2v17h-2zM423 516h2v18h-2zM425 516h2v18h-2zM427 517h2v17h-2zM429 520h2v14h-2zM431 522h2v12h-2zM433 525h2v9h-2zM435 528h2v6h-2zM437 531h2v3h-2zM439 532h2v2h-2zM441 533h2v1h-2zM443 533h2v1h-2zM445 534h2v1h-2zM447 533h2v1h-2zM449 531h2v3h-2zM451 528h2v6h-2zM453 526h2v8h-2zM455 524h2v10h-2zM457 524h2v10h-2zM459 522h2v12h-2zM461 521h2v13h-2zM463 521h2v13h-2zM465 521h2v13h-2zM467 523h2v11h-2zM469 525h2v9h-2zM471 527h2v7h-2zM473 528h2v6h-2zM475 530h2v4h-2zM477 532h2v2h-2zM479 533h2v1h-2zM481 534h2v1h-2zM483 533h2v1h-2zM485 533h2v1h-2zM487 531h2v3h-2zM489 529h2v5h-2zM491 526h2v8h-2zM493 522h2v12h-2zM495 518h2v16h-2zM497 516h2v18h-2zM499 514h2v20h-2zM501 511h2v23h-2zM503 508h2v26h-2zM505 505h2v29h-2zM507 502h2v32h-2zM509 501h2v33h-2zM511 500h2v34h-2zM513 502h2v32h-2zM515 505h2v29h-2zM517 508h2v26h-2zM519 512h2v22h-2zM521 514h2v20h-2zM523 518h2v16h-2zM525 522h2v12h-2zM527 527h2v7h-2zM529 530h2v4h-2zM531 532h2v2h-2zM533 534h2v1h-2zM535 534h2v1h-2zM537 534h2v3h-2zM539 534h2v5h-2zM541 534h2v5h-2zM543 534h2v3h-2zM545 534h2v1h-2zM547 534h2v1h-2zM549 534h2v2h-2zM551 534h2v2h-2zM553 534h2v3h-2zM555 534h2v3h-2zM557 534h2v3h-2zM559 534h2v4h-2zM561 534h2v3h-2zM563 534h2v3h-2zM565 534h2v2h-2zM567 534h2v1h-2zM569 534h2v1h-2zM571 533h2v1h-2zM573 533h2v1h-2zM575 532h2v2h-2zM577 532h2v2h-2zM579 531h2v3h-2zM581 530h2v4h-2zM583 529h2v5h-2zM585 528h2v6h-2zM587 527h2v7h-2zM589 526h2v8h-2zM591 525h2v9h-2zM593 524h2v10h-2zM595 523h2v11h-2zM597 522h2v12h-2zM599 520h2v14h-2zM601 515h2v19h-2zM603 514h2v20h-2zM605 512h2v22h-2zM607 511h2v23h-2zM609 510h2v24h-2zM611 509h2v25h-2zM613 511h2v23h-2zM615 513h2v21h-2zM617 515h2v19h-2zM619 517h2v17h-2zM621 520h2v14h-2zM623 522h2v12h-2zM625 524h2v10h-2zM627 526h2v8h-2zM629 527h2v7h-2zM631 530h2v4h-2zM633 534h2v1h-2zM635 534h2v5h-2zM637 534h2v8h-2zM639 534h2v10h-2zM641 534h2v11h-2zM643 534h2v12h-2zM645 534h2v12h-2zM647 534h2v11h-2zM649 534h2v10h-2zM651 534h2v8h-2zM653 534h2v5h-2zM655 534h2v3h-2zM657 534h2v3h-2zM659 534h2v2h-2zM661 534h2v2h-2zM663 534h2v3h-2zM665 534h2v3h-2zM667 534h2v3h-2zM669 534h2v4h-2zM671 534h2v3h-2zM673 534h2v3h-2zM675 534h2v2h-2zM677 534h2v2h-2zM679 534h2v1h-2zM681 534h2v1h-2zM683 534h2v1h-2zM685 534h2v1h-2zM687 534h2v2h-2zM689 534h2v3h-2zM691 534h2v4h-2zM693 534h2v4h-2zM695 534h2v5h-2zM697 534h2v5h-2zM699 534h2v4h-2zM701 534h2v3h-2zM703 534h2v2h-2zM705 534h2v1h-2zM707 534h2v1h-2zM709 532h2v2h-2zM711 531h2v3h-2zM713 531h2v3h-2zM715 531h2v3h-2zM717 532h2v2h-2zM719 534h2v1h-2zM721 534h2v3h-2zM723 534h2v7h-2zM725 534h2v9h-2zM727 534h2v13h-2zM729 534h2v15h-2zM731 534h2v16h-2zM733 534h2v16h-2zM735 534h2v16h-2zM737 534h2v15h-2zM739 534h2v14h-2zM741 534h2v14h-2zM743 534h2v13h-2zM745 534h2v12h-2zM747 534h2v11h-2zM749 534h2v10h-2zM751 534h2v9h-2zM753 534h2v8h-2zM755 534h2v9h-2zM757 534h2v10h-2zM759 534h2v11h-2zM761 534h2v13h-2zM763 534h2v15h-2zM765 534h2v16h-2zM767 534h2v16h-2zM769 534h2v14h-2zM771 534h2v12h-2zM773 534h2v10h-2zM775 534h2v9h-2zM777 534h2v8h-2zM779 534h2v9h-2zM781 534h2v10h-2zM783 534h2v11h-2zM785 534h2v13h-2zM787 534h2v14h-2zM789 534h2v15h-2zM791 534h2v17h-2zM793 534h2v18h-2zM795 534h2v18h-2zM797 534h2v18h-2zM799 534h2v19h-2zM801 534h2v20h-2zM803 534h2v20h-2zM805 534h2v20h-2zM807 534h2v20h-2zM809 534h2v20h-2zM811 534h2v18h-2zM813 534h2v17h-2zM815 534h2v14h-2zM817 534h2v12h-2zM819 534h2v7h-2zM821 534h2v5h-2zM823 534h2v4h-2zM825 534h2v3h-2zM827 534h2v2h-2zM829 534h2v2h-2zM831 534h2v1h-2zM833 534h2v1h-2zM835 534h2v2h-2zM837 534h2v3h-2zM839 534h2v3h-2zM841 534h2v4h-2zM843 534h2v4h-2zM845 534h2v4h-2zM847 534h2v4h-2zM849 534h2v5h-2zM851 534h2v9h-2zM853 534h2v14h-2zM855 534h2v17h-2zM857 534h2v19h-2zM859 534h2v20h-2zM861 534h2v21h-2zM863 534h2v21h-2zM865 534h2v19h-2zM867 534h2v16h-2zM869 534h2v13h-2zM871 534h2v13h-2zM873 534h2v15h-2zM875 534h2v18h-2zM877 534h2v19h-2zM879 534h2v21h-2zM881 534h2v22h-2zM883 534h2v22h-2zM885 534h2v19h-2zM887 534h2v17h-2zM889 534h2v15h-2zM891 534h2v14h-2zM893 534h2v12h-2zM895 534h2v11h-2zM897 534h2v10h-2zM899 534h2v10h-2zM901 534h2v10h-2zM903 534h2v10h-2zM905 534h2v9h-2zM907 534h2v9h-2zM909 534h2v8h-2zM911 534h2v8h-2zM913 534h2v8h-2zM915 534h2v7h-2zM917 534h2v6h-2zM919 534h2v5h-2zM921 534h2v4h-2zM923 534h2v2h-2zM925 534h2v1h-2zM927 534h2v1h-2z" fill="#c0c0c0"/>
<path d="M3 526v1h1v-1zM4 527v1h1v-1zM5 527v1h1v-1zM6 528v1h1v-1zM7 528v1h1v-1zM8 529v1h1v-1zM9 529v1h1v-1zM10 530v1h1v-1zM11 531v1h1v-1zM12 531v1h1v-1zM13 532v1h1v-1zM14 533v1h1v-1zM15 533v1h1v-1zM16 534v1h1v-1zM17 534v1h1v-1zM18 534v1h1v-1zM19 534v1h1v-1zM20 534v1h1v-1zM21 534v1h1v-1zM22 534v1h1v-1zM23 534v1h1v-1zM24 534v1h1v-1zM25 534v1h1v-1zM26 533v1h1v-1zM27 533v1h1v-1zM28 533v1h1v-1zM29 533v1h1v-1zM30 532v1h1v-1zM31 532v1h1v-1zM32 532v1h1v-1zM33 532v1h1v-1zM34 532v1h1v-1zM35 532v1h1v-1zM36 532v1h1v-1zM37 533v1h1v-1zM38 533v1h1v-1zM39 533v1h1v-1zM40 534v1h1v-1zM41 535v1h1v-1zM42 536v1h1v-1zM43 536v1h1v-1zM44 537v1h1v-1zM45 538v1h1v-1zM46 539v1h1v-1zM47 539v1h1v-1zM48 540v1h1v-1zM49 541v1h1v-1zM50 541v1h1v-1zM51 542v1h1v-1zM52 542v1h1v-1zM53 543v1h1v-1zM54 544v1h1v-1zM55 544v1h1v-1zM56 545v1h1v-1zM57 545v1h1v-1zM58 546v1h1v-1zM59 546v1h1v-1zM60 546v1h1v-1zM61 547v1h1v-1zM62 547v1h1v-1zM63 547v1h1v-1zM64 548v1h1v-1zM65 548v1h1v-1zM66 549v1h1v-1zM67 549v1h1v-1zM68 550v1h1v-1zM69 550v1h1v-1zM70 551v1h1v-1zM71 552v1h1v-1zM72 553v1h1v-1zM73 554v1h1v-1zM74 555v1h1v-1zM75 556v2h1v-2zM76 558v1h1v-1zM77 559v1h1v-1zM78 560v1h1v-1zM79 561v1h1v-1zM80 561v1h1v-1zM81 562v1h1v-1zM82 563v1h1v-1zM83 563v1h1v-1zM84 564v1h1v-1zM85 564v1h1v-1zM86 564v1h1v-1zM87 565v1h1v-1zM88 565v1h1v-1zM89 565v1h1v-1zM90 565v1h1v-1zM91 565v1h1v-1zM92 565v1h1v-1zM93 565v1h1v-1zM94 565v1h1v-1zM95 565v1h1v-1zM96 565v1h1v-1zM97 565v1h1v-1zM98 564v1h1v-1zM99 564v1h1v-1zM100 563v1h1v-1zM101 563v1h1v-1zM102 562v1h1v-1zM103 562v1h1v-1zM104 562v1h1v-1zM105 561v1h1v-1zM106 561v1h1v-1zM107 560v1h1v-1zM108 560v1h1v-1zM109 560v1h1v-1zM110 559v1h1v-1zM111 559v1h1v-1zM112 558v1h1v-1zM113 558v1h1v-1zM114 557v1h1v-1zM115 557v1h1v-1zM116 556v1h1v-1zM117 556v1h1v-1zM118 556v1h1v-1zM119 556v1h1v-1zM120 555v1h1v-1zM121 555v1h1v-1zM122 555v1h1v-1zM123 554v1h1v-1zM124 553v1h1v-1zM125 552v1h1v-1zM126 552v1h1v-1zM127 551v1h1v-1zM128 550v1h1v-1zM129 549v1h1v-1zM130 548v1h1v-1zM131 547v1h1v-1zM132 546v1h1v-1zM133 546v1h1v-1zM134 545v1h1v-1zM135 544v1h1v-1zM136 543v1h1v-1zM137 542v1h1v-1zM138 541v1h1v-1zM139 540v1h1v-1zM140 539v1h1v-1zM141 538v1h1v-1zM142 537v1h1v-1zM143 536v1h1v-1zM144 535v1h1v-1zM145 534v1h1v-1zM146 533v1h1v-1zM147 532v1h1v-1zM148 530v2h1v-2zM149 529v1h1v-1zM150 528v1h1v-1zM151 526v2h1v-2zM152 525v1h1v-1zM153 523v2h1v-2zM154 521v2h1v-2zM155 520v1h1v-1zM156 518v2h1v-2zM157 516v2h1v-2zM158 515v1h1v-1zM159 513v2h1v-2zM160 511v2h1v-2zM161 510v1h1v-1zM162 508v2h1v-2zM163 507v1h1v-1zM164 505v2h1v-2zM165 504v1h1v-1zM166 503v1h1v-1zM167 502v1h1v-1zM168 501v1h1v-1zM169 499v2h1v-2zM170 498v1h1v-1zM171 498v1h1v-1zM172 497v1h1v-1zM173 496v1h1v-1zM174 496v1h1v-1zM175 495v1h1v-1zM176 495v1h1v-1zM177 495v1h1v-1zM178 495v1h1v-1zM179 495v1h1v-1zM180 495v1h1v-1zM181 495v1h1v-1zM182 495v1h1v-1zM183 495v1h1v-1zM184 496v1h1v-1zM185 496v1h1v-1zM186 497v1h1v-1zM187 498v1h1v-1zM188 499v1h1v-1zM189 499v1h1v-1zM190 500v1h1v-1zM191 501v1h1v-1zM192 502v1h1v-1zM193 503v1h1v-1zM194 503v1h1v-1zM195 504v1h1v-1zM196 505v1h1v-1zM197 506v1h1v-1zM198 506v1h1v-1zM199 507v1h1v-1zM200 508v1h1v-1zM201 508v1h1v-1zM202 509v1h1v-1zM203 510v1h1v-1zM204 511v1h1v-1zM205 512v1h1v-1zM206 513v1h1v-1zM207 514v2h1v-2zM208 516v2h1v-2zM209 518v1h1v-1zM210 519v2h1v-2zM211 521v2h1v-2zM212 523v2h1v-2zM213 525v2h1v-2zM214 527v2h1v-2zM215 529v2h1v-2zM216 531v2h1v-2zM217 533v2h1v-2zM218 535v2h1v-2zM219 537v2h1v-2zM220 539v1h1v-1zM221 540v2h1v-2zM222 542v2h1v-2zM223 544v1h1v-1zM224 545v1h1v-1zM225 546v2h1v-2zM226 548v1h1v-1zM227 549v1h1v-1zM228 550v1h1v-1zM229 551v1h1v-1zM230 551v1h1v-1zM231 551v1h1v-1zM232 552v1h1v-1zM233 552v1h1v-1zM234 552v1h1v-1zM235 552v1h1v-1zM236 552v1h1v-1zM237 552v1h1v-1zM238 551v1h1v-1zM239 551v1h1v-1zM240 550v1h1v-1zM241 550v1h1v-1zM242 549v1h1v-1zM243 548v1h1v-1zM244 547v1h1v-1zM245 546v1h1v-1zM246 544v2h1v-2zM247 543v1h1v-1zM248 542v1h1v-1zM249 541v1h1v-1zM250 540v1h1v-1zM251 539v1h1v-1zM252 538v1h1v-1zM253 537v1h1v-1zM254 536v1h1v-1zM255 536v1h1v-1zM256 535v1h1v-1zM257 534v1h1v-1zM258 534v1h1v-1zM259 533v1h1v-1zM260 533v1h1v-1zM261 532v1h1v-1zM262 532v1h1v-1zM263 532v1h1v-1zM264 532v1h1v-1zM265 532v1h1v-1zM266 532v1h1v-1zM267 532v1h1v-1zM268 532v1h1v-1zM269 532v1h1v-1zM270 532v1h1v-1zM271 532v1h1v-1zM272 532v1h1v-1zM273 532v1h1v-1zM274 532v1h1v-1zM275 533v1h1v-1zM276 533v1h1v-1zM277 534v1h1v-1zM278 534v1h1v-1zM279 535v1h1v-1zM280 535v1h1v-1zM281 536v1h1v-1zM282 537v1h1v-1zM283 538v1h1v-1zM284 538v1h1v-1zM285 539v1h1v-1zM286 540v1h1v-1zM287 540v1h1v-1zM288 541v1h1v-1zM289 542v1h1v-1zM290 542v1h1v-1zM291 543v1h1v-1zM292 543v1h1v-1zM293 544v1h1v-1zM294 544v1h1v-1zM295 544v1h1v-1zM296 544v1h1v-1zM297 544v1h1v-1zM298 544v1h1v-1zM299 544v1h1v-1zM300 544v1h1v-1zM301 544v1h1v-1zM302 543v1h1v-1zM303 543v1h1v-1zM304 543v1h1v-1zM305 542v1h1v-1zM306 542v1h1v-1zM307 541v1h1v-1zM308 541v1h1v-1zM309 540v1h1v-1zM310 539v1h1v-1zM311 539v1h1v-1zM312 538v1h1v-1zM313 538v1h1v-1zM314 537v1h1v-1zM315 536v1h1v-1zM316 536v1h1v-1zM317 535v1h1v-1zM318 534v1h1v-1zM319 534v1h1v-1zM320 533v1h1v-1zM321 532v1h1v-1zM322 532v1h1v-1zM323 532v1h1v-1zM324 531v1h1v-1zM325 531v1h1v-1zM326 531v1h1v-1zM327 531v1h1v-1zM328 531v1h1v-1zM329 531v1h1v-1zM330 532v1h1v-1zM331 532v1h1v-1zM332 533v1h1v-1zM333 533v1h1v-1zM334 534v1h1v-1zM335 535v1h1v-1zM336 535v1h1v-1zM337 536v1h1v-1zM338 536v1h1v-1zM339 536v1h1v-1zM340 537v1h1v-1zM341 537v1h1v-1zM342 537v1h1v-1zM343 537v1h1v-1zM344 536v1h1v-1zM345 536v1h1v-1zM346 536v1h1v-1zM347 536v1h1v-1zM348 536v1h1v-1zM349 535v1h1v-1zM350 535v1h1v-1zM351 535v1h1v-1zM352 535v1h1v-1zM353 534v1h1v-1zM354 534v1h1v-1zM355 534v1h1v-1zM356 534v1h1v-1zM357 534v1h1v-1zM358 533v1h1v-1zM359 533v1h1v-1zM360 533v1h1v-1zM361 533v1h1v-1zM362 533v1h1v-1zM363 533v1h1v-1zM364 533v1h1v-1zM365 533v1h1v-1zM366 532v1h1v-1zM367 532v1h1v-1zM368 532v1h1v-1zM369 533v1h1v-1zM370 533v1h1v-1zM371 533v1h1v-1zM372 533v1h1v-1zM373 533v1h1v-1zM374 533v1h1v-1zM375 533v1h1v-1zM376 533v1h1v-1zM377 534v1h1v-1zM378 534v1h1v-1zM379 534v1h1v-1zM380 535v1h1v-1zM381 535v1h1v-1zM382 535v1h1v-1zM383 536v1h1v-1zM384 536v1h1v-1zM385 536v1h1v-1zM386 536v1h1v-1zM387 537v1h1v-1zM388 537v1h1v-1zM389 537v1h1v-1zM390 537v1h1v-1zM391 537v1h1v-1zM392 537v1h1v-1zM393 537v1h1v-1zM394 537v1h1v-1zM395 537v1h1v-1zM396 537v1h1v-1zM397 536v1h1v-1zM398 536v1h1v-1zM399 536v1h1v-1zM400 536v1h1v-1zM401 536v1h1v-1zM402 536v1h1v-1zM403 536v1h1v-1zM404 536v1h1v-1zM405 535v1h1v-1zM406 535v1h1v-1zM407 534v1h1v-1zM408 534v1h1v-1zM409 534v1h1v-1zM410 533v1h1v-1zM411 533v1h1v-1zM412 532v1h1v-1zM413 532v1h1v-1zM414 531v1h1v-1zM415 530v1h1v-1zM416 530v1h1v-1zM417 529v1h1v-1zM418 528v1h1v-1zM419 527v1h1v-1zM420 526v1h1v-1zM421 525v1h1v-1zM422 524v1h1v-1zM423 523v1h1v-1zM424 523v1h1v-1zM425 522v1h1v-1zM426 521v1h1v-1zM427 520v1h1v-1zM428 520v1h1v-1zM429 519v1h1v-1zM430 519v1h1v-1zM431 518v1h1v-1zM432 518v1h1v-1zM433 518v1h1v-1zM434 518v1h1v-1zM435 519v1h1v-1zM436 519v1h1v-1zM437 520v1h1v-1zM438 521v1h1v-1zM439 521v1h1v-1zM440 522v1h1v-1zM441 523v1h1v-1zM442 524v1h1v-1zM443 525v1h1v-1zM444 526v1h1v-1zM445 527v1h1v-1zM446 528v1h1v-1zM447 529v1h1v-1zM448 529v1h1v-1zM449 530v1h1v-1zM450 531v1h1v-1zM451 531v1h1v-1zM452 531v1h1v-1zM453 531v1h1v-1zM454 532v1h1v-1zM455 531v1h1v-1zM456 531v1h1v-1zM457 530v1h1v-1zM458 530v1h1v-1zM459 529v1h1v-1zM460 529v1h1v-1zM461 528v1h1v-1zM462 527v1h1v-1zM463 526v1h1v-1zM464 526v1h1v-1zM465 525v1h1v-1zM466 524v1h1v-1zM467 524v1h1v-1zM468 524v1h1v-1zM469 523v1h1v-1zM470 523v1h1v-1zM471 523v1h1v-1zM472 523v1h1v-1zM473 524v1h1v-1zM474 524v1h1v-1zM475 524v1h1v-1zM476 525v1h1v-1zM477 525v1h1v-1zM478 526v1h1v-1zM479 527v1h1v-1zM480 527v1h1v-1zM481 528v1h1v-1zM482 529v1h1v-1zM483 530v1h1v-1zM484 530v1h1v-1zM485 531v1h1v-1zM486 532v1h1v-1zM487 532v1h1v-1zM488 532v1h1v-1zM489 532v1h1v-1zM490 532v1h1v-1zM491 531v1h1v-1zM492 531v1h1v-1zM493 530v1h1v-1zM494 530v1h1v-1zM495 529v1h1v-1zM496 528v1h1v-1zM497 527v1h1v-1zM498 526v1h1v-1zM499 525v1h1v-1zM500 524v1h1v-1zM501 523v1h1v-1zM502 522v1h1v-1zM503 520v2h1v-2zM504 519v1h1v-1zM505 518v1h1v-1zM506 516v2h1v-2zM507 515v1h1v-1zM508 514v1h1v-1zM509 512v2h1v-2zM510 511v1h1v-1zM511 510v1h1v-1zM512 509v1h1v-1zM513 508v1h1v-1zM514 507v1h1v-1zM515 506v1h1v-1zM516 506v1h1v-1zM517 506v1h1v-1zM518 505v1h1v-1zM519 505v1h1v-1zM520 505v1h1v-1zM521 505v1h1v-1zM522 505v1h1v-1zM523 506v1h1v-1zM524 507v1h1v-1zM525 508v1h1v-1zM526 508v1h1v-1zM527 509v2h1v-2zM528 511v1h1v-1zM529 512v1h1v-1zM530 513v2h1v-2zM531 515v1h1v-1zM532 516v2h1v-2zM533 518v2h1v-2zM534 520v1h1v-1zM535 521v2h1v-2zM536 523v1h1v-1zM537 524v2h1v-2zM538 526v1h1v-1zM539 527v1h1v-1zM540 528v2h1v-2zM541 530v1h1v-1zM542 531v2h1v-2zM543 532v1h1v-1zM544 533v1h1v-1zM545 534v1h1v-1zM546 535v1h1v-1zM547 535v1h1v-1zM548 536v1h1v-1zM549 536v1h1v-1zM550 536v1h1v-1zM551 536v1h1v-1zM552 536v1h1v-1zM553 537v1h1v-1zM554 537v1h1v-1zM555 537v1h1v-1zM556 537v1h1v-1zM557 537v1h1v-1zM558 537v1h1v-1zM559 537v1h1v-1zM560 537v1h1v-1zM561 537v1h1v-1zM562 537v1h1v-1zM563 537v1h1v-1zM564 537v1h1v-1zM565 537v1h1v-1zM566 537v1h1v-1zM567 537v1h1v-1zM568 537v1h1v-1zM569 536v1h1v-1zM570 536v1h1v-1zM571 536v1h1v-1zM572 536v1h1v-1zM573 536v1h1v-1zM574 535v1h1v-1zM575 535v1h1v-1zM576 535v1h1v-1zM577 535v1h1v-1zM578 534v1h1v-1zM579 534v1h1v-1zM580 534v1h1v-1zM581 533v1h1v-1zM582 533v1h1v-1zM583 533v1h1v-1zM584 532v1h1v-1zM585 532v1h1v-1zM586 531v1h1v-1zM587 531v1h1v-1zM588 531v1h1v-1zM589 530v1h1v-1zM590 530v1h1v-1zM591 529v1h1v-1zM592 529v1h1v-1zM593 528v1h1v-1zM594 528v1h1v-1zM595 527v1h1v-1zM596 527v1h1v-1zM597 526v1h1v-1zM598 526v1h1v-1zM599 525v1h1v-1zM600 525v1h1v-1zM601 524v1h1v-1zM602 524v1h1v-1zM603 523v1h1v-1zM604 522v1h1v-1zM605 521v1h1v-1zM606 521v1h1v-1zM607 520v1h1v-1zM608 519v1h1v-1zM609 518v1h1v-1zM610 517v1h1v-1zM611 516v1h1v-1zM612 515v1h1v-1zM613 514v1h1v-1zM614 514v1h1v-1zM615 513v1h1v-1zM616 513v1h1v-1zM617 512v1h1v-1zM618 512v1h1v-1zM619 512v1h1v-1zM620 512v1h1v-1zM621 512v1h1v-1zM622 512v1h1v-1zM623 513v1h1v-1zM624 513v1h1v-1zM625 514v1h1v-1zM626 514v1h1v-1zM627 515v1h1v-1zM628 516v1h1v-1zM629 517v1h1v-1zM630 518v1h1v-1zM631 519v1h1v-1zM632 520v1h1v-1zM633 521v2h1v-2zM634 523v1h1v-1zM635 524v1h1v-1zM636 525v2h1v-2zM637 527v1h1v-1zM638 528v1h1v-1zM639 529v2h1v-2zM640 531v1h1v-1zM641 532v1h1v-1zM642 533v1h1v-1zM643 534v2h1v-2zM644 536v1h1v-1zM645 537v1h1v-1zM646 538v1h1v-1zM647 539v1h1v-1zM648 540v1h1v-1zM649 541v1h1v-1zM650 542v1h1v-1zM651 542v1h1v-1zM652 543v1h1v-1zM653 543v1h1v-1zM654 544v1h1v-1zM655 544v1h1v-1zM656 544v1h1v-1zM657 543v1h1v-1zM658 543v1h1v-1zM659 542v1h1v-1zM660 542v1h1v-1zM661 542v1h1v-1zM662 541v1h1v-1zM663 540v1h1v-1zM664 540v1h1v-1zM665 540v1h1v-1zM666 539v1h1v-1zM667 539v1h1v-1zM668 538v1h1v-1zM669 538v1h1v-1zM670 538v1h1v-1zM671 538v1h1v-1zM672 537v1h1v-1zM673 537v1h1v-1zM674 537v1h1v-1zM675 537v1h1v-1zM676 537v1h1v-1zM677 537v1h1v-1zM678 537v1h1v-1zM679 537v1h1v-1zM680 537v1h1v-1zM681 537v1h1v-1zM682 537v1h1v-1zM683 537v1h1v-1zM684 536v1h1v-1zM685 536v1h1v-1zM686 536v1h1v-1zM687 536v1h1v-1zM688 536v1h1v-1zM689 536v1h1v-1zM690 536v1h1v-1zM691 536v1h1v-1zM692 536v1h1v-1zM693 536v1h1v-1zM694 536v1h1v-1zM695 536v1h1v-1zM696 536v1h1v-1zM697 536v1h1v-1zM698 536v1h1v-1zM699 536v1h1v-1zM700 537v1h1v-1zM701 537v1h1v-1zM702 537v1h1v-1zM703 537v1h1v-1zM704 537v1h1v-1zM705 537v1h1v-1zM706 537v1h1v-1zM707 537v1h1v-1zM708 537v1h1v-1zM709 537v1h1v-1zM710 536v1h1v-1zM711 536v1h1v-1zM712 536v1h1v-1zM713 535v1h1v-1zM714 535v1h1v-1zM715 534v1h1v-1zM716 534v1h1v-1zM717 534v1h1v-1zM718 533v1h1v-1zM719 533v1h1v-1zM720 533v1h1v-1zM721 533v1h1v-1zM722 534v1h1v-1zM723 534v1h1v-1zM724 534v1h1v-1zM725 535v1h1v-1zM726 535v1h1v-1zM727 536v1h1v-1zM728 537v1h1v-1zM729 538v1h1v-1zM730 539v1h1v-1zM731 540v1h1v-1zM732 541v1h1v-1zM733 542v1h1v-1zM734 543v1h1v-1zM735 544v1h1v-1zM736 545v1h1v-1zM737 546v1h1v-1zM738 547v1h1v-1zM739 548v1h1v-1zM740 548v1h1v-1zM741 548v1h1v-1zM742 548v1h1v-1zM743 549v1h1v-1zM744 549v1h1v-1zM745 548v1h1v-1zM746 548v1h1v-1zM747 548v1h1v-1zM748 548v1h1v-1zM749 547v1h1v-1zM750 546v1h1v-1zM751 546v1h1v-1zM752 546v1h1v-1zM753 545v1h1v-1zM754 545v1h1v-1zM755 545v1h1v-1zM756 545v1h1v-1zM757 544v1h1v-1zM758 544v1h1v-1zM759 544v1h1v-1zM760 544v1h1v-1zM761 544v1h1v-1zM762 544v1h1v-1zM763 544v1h1v-1zM764 544v1h1v-1zM765 544v1h1v-1zM766 544v1h1v-1zM767 544v1h1v-1zM768 544v1h1v-1zM769 545v1h1v-1zM770 545v1h1v-1zM771 546v1h1v-1zM772 546v1h1v-1zM773 546v1h1v-1zM774 546v1h1v-1zM775 546v1h1v-1zM776 545v1h1v-1zM777 545v1h1v-1zM778 545v1h1v-1zM779 545v1h1v-1zM780 545v1h1v-1zM781 544v1h1v-1zM782 544v1h1v-1zM783 544v1h1v-1zM784 544v1h1v-1zM785 544v1h1v-1zM786 544v1h1v-1zM787 544v1h1v-1zM788 544v1h1v-1zM789 545v1h1v-1zM790 545v1h1v-1zM791 546v1h1v-1zM792 546v1h1v-1zM793 547v1h1v-1zM794 547v1h1v-1zM795 548v1h1v-1zM796 548v1h1v-1zM797 549v1h1v-1zM798 549v1h1v-1zM799 550v1h1v-1zM800 550v1h1v-1zM801 551v1h1v-1zM802 551v1h1v-1zM803 552v1h1v-1zM804 552v1h1v-1zM805 552v1h1v-1zM806 552v1h1v-1zM807 553v1h1v-1zM808 553v1h1v-1zM809 553v1h1v-1zM810 553v1h1v-1zM811 553v1h1v-1zM812 553v1h1v-1zM813 552v1h1v-1zM814 552v1h1v-1zM815 552v1h1v-1zM816 551v1h1v-1zM817 551v1h1v-1zM818 550v1h1v-1zM819 550v1h1v-1zM820 549v1h1v-1zM821 548v1h1v-1zM822 547v1h1v-1zM823 546v1h1v-1zM824 545v1h1v-1zM825 544v1h1v-1zM826 543v1h1v-1zM827 542v1h1v-1zM828 541v1h1v-1zM829 540v1h1v-1zM830 539v1h1v-1zM831 538v1h1v-1zM832 538v1h1v-1zM833 537v1h1v-1zM834 536v1h1v-1zM835 536v1h1v-1zM836 536v1h1v-1zM837 536v1h1v-1zM838 536v1h1v-1zM839 536v1h1v-1zM840 536v1h1v-1zM841 536v1h1v-1zM842 536v1h1v-1zM843 536v1h1v-1zM844 536v1h1v-1zM845 536v1h1v-1zM846 536v1h1v-1zM847 536v1h1v-1zM848 536v1h1v-1zM849 536v1h1v-1zM850 537v1h1v-1zM851 537v1h1v-1zM852 538v1h1v-1zM853 539v1h1v-1zM854 540v1h1v-1zM855 540v1h1v-1zM856 541v1h1v-1zM857 542v1h1v-1zM858 543v1h1v-1zM859 544v1h1v-1zM860 545v1h1v-1zM861 546v1h1v-1zM862 547v1h1v-1zM863 548v1h1v-1zM864 548v1h1v-1zM865 549v1h1v-1zM866 550v1h1v-1zM867 550v1h1v-1zM868 551v1h1v-1zM869 551v1h1v-1zM870 551v1h1v-1zM871 551v1h1v-1zM872 551v1h1v-1zM873 551v1h1v-1zM874 551v1h1v-1zM875 551v1h1v-1zM876 550v1h1v-1zM877 550v1h1v-1zM878 550v1h1v-1zM879 550v1h1v-1zM880 550v1h1v-1zM881 550v1h1v-1zM882 550v1h1v-1zM883 550v1h1v-1zM884 550v1h1v-1zM885 550v1h1v-1zM886 550v1h1v-1zM887 551v1h1v-1zM888 551v1h1v-1zM889 551v1h1v-1zM890 552v1h1v-1zM891 551v1h1v-1zM892 551v1h1v-1zM893 551v1h1v-1zM894 550v1h1v-1zM895 550v1h1v-1zM896 549v1h1v-1zM897 549v1h1v-1zM898 548v1h1v-1zM899 547v1h1v-1zM900 547v1h1v-1zM901 546v1h1v-1zM902 546v1h1v-1zM903 545v1h1v-1zM904 545v1h1v-1zM905 544v1h1v-1zM906 544v1h1v-1zM907 544v1h1v-1zM908 543v1h1v-1zM909 543v1h1v-1zM910 543v1h1v-1zM911 543v1h1v-1zM912 542v1h1v-1zM913 542v1h1v-1zM914 542v1h1v-1zM915 542v1h1v-1zM916 542v1h1v-1zM917 541v1h1v-1zM918 541v1h1v-1zM919 541v1h1v-1zM920 540v1h1v-1zM921 540v1h1v-1zM922 540v1h1v-1zM923 540v1h1v-1zM924 539v1h1v-1zM925 539v1h1v-1zM926 538v1h1v-1zM927 538v1h1v-1z" fill="#ff0000"/>
<path d="M4 600h3v1h-3zM10 600h3v1h-3zM16 600h3v1h-3zM22 600h3v1h-3zM28 600h3v1h-3zM34 600h3v1h-3zM40 600h3v1h-3zM46 600h3v1h-3zM52 600h3v1h-3zM58 600h3v1h-3zM64 600h3v1h-3zM70 600h3v1h-3zM76 600h3v1h-3zM82 600h3v1h-3zM88 600h3v1h-3zM94 600h3v1h-3zM100 600h3v1h-3zM106 600h3v1h-3zM112 600h3v1h-3zM118 600h3v1h-3zM124 600h3v1h-3zM130 600h3v1h-3zM136 600h3v1h-3zM142 600h3v1h-3zM148 600h3v1h-3zM154 600h3v1h-3zM160 600h3v1h-3zM166 600h3v1h-3zM172 600h3v1h-3zM178 600h3v1h-3zM184 600h3v1h-3zM190 600h3v1h-3zM196 600h3v1h-3zM202 600h3v1h-3zM208 600h3v1h-3zM214 600h3v1h-3zM220 600h3v1h-3zM226 600h3v1h-3zM232 600h3v1h-3zM238 600h3v1h-3zM244 600h3v1h-3zM250 600h3v1h-3zM256 600h3v1h-3zM262 600h3v1h-3zM268 600h3v1h-3zM274 600h3v1h-3zM280 600h3v1h-3zM286 600h3v1h-3zM292 600h3v1h-3zM298 600h3v1h-3zM304 600h3v1h-3zM310 600h3v1h-3zM316 600h3v1h-3zM322 600h3v1h-3zM328 600h3v1h-3zM334 600h3v1h-3zM340 600h3v1h-3zM346 600h3v1h-3zM352 600h3v1h-3zM358 600h3v1h-3zM364 600h3v1h-3zM370 600h3v1h-3zM376 600h3v1h-3zM382 600h3v1h-3zM388 600h3v1h-3zM394 600h3v1h-3zM400 600h3v1h-3zM406 600h3v1h-3zM412 600h3v1h-3zM418 600h3v1h-3zM424 600h3v1h-3zM430 600h3v1h-3zM436 600h3v1h-3zM442 600h3v1h-3zM448 600h3v1h-3zM454 600h3v1h-3zM460 600h3v1h-3zM466 600h3v1h-3zM472 600h3v1h-3zM478 600h3v1h-3zM484 600h3v1h-3zM490 600h3v1h-3zM496 600h3v1h-3zM502 600h3v1h-3zM508 600h3v1h-3zM514 600h3v1h-3zM520 600h3v1h-3zM526 600h3v1h-3zM532 600h3v1h-3zM538 600h3v1h-3zM544 600h3v1h-3zM550 600h3v1h-3zM556 600h3v1h-3zM562 600h3v1h-3zM568 600h3v1h-3zM574 600h3v1h-3zM580 600h3v1h-3zM586 600h3v1h-3zM592 600h3v1h-3zM598 600h3v1h-3zM604 600h3v1h-3zM610 600h3v1h-3zM616 600h3v1h-3zM622 600h3v1h-3zM628 600h3v1h-3zM634 600h3v1h-3zM640 600h3v1h-3zM646 600h3v1h-3zM652 600h3v1h-3zM658 600h3v1h-3zM664 600h3v1h-3zM670 600h3v1h-3zM676 600h3v1h-3zM682 600h3v1h-3zM688 600h3v1h-3zM694 600h3v1h-3zM700 600h3v1h-3zM706 600h3v1h-3zM712 600h3v1h-3zM718 600h3v1h-3zM724 600h3v1h-3zM730 600h3v1h-3zM736 600h3v1h-3zM742 600h3v1h-3zM748 600h3v1h-3zM754 600h3v1h-3zM760 600h3v1h-3zM766 600h3v1h-3zM772 600h3v1h-3zM778 600h3v1h-3zM784 600h3v1h-3zM790 600h3v1h-3zM796 600h3v1h-3zM802 600h3v1h-3zM808 600h3v1h-3zM814 600h3v1h-3zM820 600h3v1h-3zM826 600h3v1h-3zM832 600h3v1h-3zM838 600h3v1h-3zM844 600h3v1h-3zM850 600h3v1h-3zM856 600h3v1h-3zM862 600h3v1h-3zM868 600h3v1h-3zM874 600h3v1h-3zM880 600h3v1h-3zM886 600h3v1h-3zM892 600h3v1h-3zM898 600h3v1h-3zM904 600h3v1h-3zM910 600h3v1h-3zM916 600h3v1h-3zM922 600h3v1h-3zM928 600h3v1h-3zM934 600h3v1h-3zM940 600h3v1h-3zM946 600h3v1h-3zM952 600h3v1h-3zM958 600h3v1h-3zM964 600h3v1h-3zM970 600h3v1h-3zM976 600h3v1h-3zM982 600h3v1h-3zM988 600h3v1h-3zM994 600h3v1h-3zM1000 600h3v1h-3zM1006 600h3v1h-3zM1012 600h3v1h-3zM1018 600h3v1h-3zM1024 600h3v1h-3zM1030 600h3v1h-3zM1036 600h3v1h-3zM1042 600h3v1h-3zM1048 600h3v1h-3zM1054 600h3v1h-3zM1060 600h3v1h-3zM1066 600h3v1h-3zM1072 600h3v1h-3zM1078 600h3v1h-3zM1084 600h3v1h-3zM1090 600h3v1h-3zM1096 600h3v1h-3zM1102 600h3v1h-3zM1108 600h3v1h-3zM1114 600h3v1h-3zM1120 600h3v1h-3zM1126 600h3v1h-3zM1132 600h3v1h-3zM1138 600h3v1h-3zM1144 600h3v1h-3zM1150 600h3v1h-3zM1156 600h3v1h-3zM1162 600h3v1h-3z" fill="#c0c0c0"/>
<path d="M4 635h3v1h-3zM10 635h3v1h-3zM16 635h3v1h-3zM22 635h3v1h-3zM28 635h3v1h-3zM34 635h3v1h-3zM40 635h3v1h-3zM46 635h3v1h-3zM52 635h3v1h-3zM58 635h3v1h-3zM64 635h3v1h-3zM70 635h3v1h-3zM76 635h3v1h-3zM82 635h3v1h-3zM88 635h3v1h-3zM94 635h3v1h-3zM100 635h3v1h-3zM106 635h3v1h-3zM112 635h3v1h-3zM118 635h3v1h-3zM124 635h3v1h-3zM130 635h3v1h-3zM136 635h3v1h-3zM142 635h3v1h-3zM148 635h3v1h-3zM154 635h3v1h-3zM160 635h3v1h-3zM166 635h3v1h-3zM172 635h3v1h-3zM178 635h3v1h-3zM184 635h3v1h-3zM190 635h3v1h-3zM196 635h3v1h-3zM202 635h3v1h-3zM208 635h3v1h-3zM214 635h3v1h-3zM220 635h3v1h-3zM226 635h3v1h-3zM232 635h3v1h-3zM238 635h3v1h-3zM244 635h3v1h-3zM250 635h3v1h-3zM256 635h3v1h-3zM262 635h3v1h-3zM268 635h3v1h-3zM274 635h3v1h-3zM280 635h3v1h-3zM286 635h3v1h-3zM292 635h3v1h-3zM298 635h3v1h-3zM304 635h3v1h-3zM310 635h3v1h-3zM316 635h3v1h-3zM322 635h3v1h-3zM328 635h3v1h-3zM334 635h3v1h-3zM340 635h3v1h-3zM346 635h3v1h-3zM352 635h3v1h-3zM358 635h3v1h-3zM364 635h3v1h-3zM370 635h3v1h-3zM376 635h3v1h-3zM382 635h3v1h-3zM388 635h3v1h-3zM394 635h3v1h-3zM400 635h3v1h-3zM406 635h3v1h-3zM412 635h3v1h-3zM418 635h3v1h-3zM424 635h3v1h-3zM430 635h3v1h-3zM436 635h3v1h-3zM442 635h3v1h-3zM448 635h3v1h-3zM454 635h3v1h-3zM460 635h3v1h-3zM466 635h3v1h-3zM472 635h3v1h-3zM478 635h3v1h-3zM484 635h3v1h-3zM490 635h3v1h-3zM496 635h3v1h-3zM502 635h3v1h-3zM508 635h3v1h-3zM514 635h3v1h-3zM520 635h3v1h-3zM526 635h3v1h-3zM532 635h3v1h-3zM538 635h3v1h-3zM544 635h3v1h-3zM550 635h3v1h-3zM556 635h3v1h-3zM562 635h3v1h-3zM568 635h3v1h-3zM574 635h3v1h-3zM580 635h3v1h-3zM586 635h3v1h-3zM592 635h3v1h-3zM598 635h3v1h-3zM604 635h3v1h-3zM610 635h3v1h-3zM616 635h3v1h-3zM622 635h3v1h-3zM628 635h3v1h-3zM634 635h3v1h-3zM640 635h3v1h-3zM646 635h3v1h-3zM652 635h3v1h-3zM658 635h3v1h-3zM664 635h3v1h-3zM670 635h3v1h-3zM676 635h3v1h-3zM682 635h3v1h-3zM688 635h3v1h-3zM694 635h3v1h-3zM700 635h3v1h-3zM706 635h3v1h-3zM712 635h3v1h-3zM718 635h3v1h-3zM724 635h3v1h-3zM730 635h3v1h-3zM736 635h3v1h-3zM742 635h3v1h-3zM748 635h3v1h-3zM754 635h3v1h-3zM760 635h3v1h-3zM766 635h3v1h-3zM772 635h3v1h-3zM778 635h3v1h-3zM784 635h3v1h-3zM790 635h3v1h-3zM796 635h3v1h-3zM802 635h3v1h-3zM808 635h3v1h-3zM814 635h3v1h-3zM820 635h3v1h-3zM826 635h3v1h-3zM832 635h3v1h-3zM838 635h3v1h-3zM844 635h3v1h-3zM850 635h3v1h-3zM856 635h3v1h-3zM862 635h3v1h-3zM868 635h3v1h-3zM874 635h3v1h-3zM880 635h3v1h-3zM886 635h3v1h-3zM892 635h3v1h-3zM898 635h3v1h-3zM904 635h3v1h-3zM910 635h3v1h-3zM916 635h3v1h-3zM922 635h3v1h-3zM928 635h3v1h-3zM934 635h3v1h-3zM940 635h3v1h-3zM946 635h3v1h-3zM952 635h3v1h-3zM958 635h3v1h-3zM964 635h3v1h-3zM970 635h3v1h-3zM976 635h3v1h-3zM982 635h3v1h-3zM988 635h3v1h-3zM994 635h3v1h-3zM1000 635h3v1h-3zM1006 635h3v1h-3zM1012 635h3v1h-3zM1018 635h3v1h-3zM1024 635h3v1h-3zM1030 635h3v1h-3zM1036 635h3v1h-3zM1042 635h3v1h-3zM1048 635h3v1h-3zM1054 635h3v1h-3zM1060 635h3v1h-3zM1066 635h3v1h-3zM1072 635h3v1h-3zM1078 635h3v1h-3zM1084 635h3v1h-3zM1090 635h3v1h-3zM1096 635h3v1h-3zM1102 635h3v1h-3zM1108 635h3v1h-3zM1114 635h3v1h-3zM1120 635h3v1h-3zM1126 635h3v1h-3zM1132 635h3v1h-3zM1138 635h3v1h-3zM1144 635h3v1h-3zM1150 635h3v1h-3zM1156 635h3v1h-3zM1162 635h3v1h-3z" fill="#c0c0c0"/>
<path d="M3 624v1h1v-1zM4 623v1h1v-1zM5 623v1h1v-1zM6 623v1h1v-1zM7 622v1h1v-1zM8 622v1h1v-1zM9 622v1h1v-1zM10 623v1h1v-1zM11 624v2h1v-2zM12 620v5h1v-5zM13 614v6h1v-6zM14 615v1h1v-1zM15 615v1h1v-1zM16 616v1h1v-1zM17 615v1h1v-1zM18 614v1h1v-1zM19 614v1h1v-1zM20 613v1h1v-1zM21 612v1h1v-1zM22 612v1h1v-1zM23 611v1h1v-1zM24 610v1h1v-1zM25 610v1h1v-1zM26 611v2h1v-2zM27 613v2h1v-2zM28 615v2h1v-2zM29 617v1h1v-1zM30 618v1h1v-1zM31 619v1h1v-1zM32 620v2h1v-2zM33 622v3h1v-3zM34 625v1h1v-1zM35 626v2h1v-2zM36 628v1h1v-1zM37 628v1h1v-1zM38 629v1h1v-1zM39 629v1h1v-1zM40 629v1h1v-1zM41 629v1h1v-1zM42 628v1h1v-1zM43 626v2h1v-2zM44 622v4h1v-4zM45 618v4h1v-4zM46 619v7h1v-7zM47 626v2h1v-2zM48 628v1h1v-1zM49 629v2h1v-2zM50 629v1h1v-1zM51 628v1h1v-1zM52 627v1h1v-1zM53 627v1h1v-1zM54 626v1h1v-1zM55 626v1h1v-1zM56 625v1h1v-1zM57 625v1h1v-1zM58 622v3h1v-3zM59 620v2h1v-2zM60 621v5h1v-5zM61 626v3h1v-3zM62 629v4h1v-4zM63 633v1h1v-1zM64 634v1h1v-1zM65 635v1h1v-1zM66 635v1h1v-1zM67 635v1h1v-1zM68 636v1h1v-1zM69 637v1h1v-1zM70 638v1h1v-1zM71 639v1h1v-1zM72 639v1h1v-1zM73 640v1h1v-1zM74 640v1h1v-1zM75 640v1h1v-1zM76 640v1h1v-1zM77 639v1h1v-1zM78 638v1h1v-1zM79 636v2h1v-2zM80 636v1h1v-1zM81 637v2h1v-2zM82 636v2h1v-2zM83 635v1h1v-1zM84 634v1h1v-1zM85 633v1h1v-1zM86 632v1h1v-1zM87 633v1h1v-1zM88 633v1h1v-1zM89 634v1h1v-1zM90 634v1h1v-1zM91 635v1h1v-1zM92 635v1h1v-1zM93 636v1h1v-1zM94 637v1h1v-1zM95 636v1h1v-1zM96 634v2h1v-2zM97 633v1h1v-1zM98 633v1h1v-1zM99 632v1h1v-1zM100 632v1h1v-1zM101 632v1h1v-1zM102 632v1h1v-1zM103 630v2h1v-2zM104 631v2h1v-2zM105 633v2h1v-2zM106 634v1h1v-1zM107 634v1h1v-1zM108 632v2h1v-2zM109 630v2h1v-2zM110 631v1h1v-1zM111 632v1h1v-1zM112 632v1h1v-1zM113 632v1h1v-1zM114 632v1h1v-1zM115 632v1h1v-1zM116 632v1h1v-1zM117 627v5h1v-5zM118 628v3h1v-3zM119 631v4h1v-4zM120 628v6h1v-6zM121 623v5h1v-5zM122 618v5h1v-5zM123 617v1h1v-1zM124 616v1h1v-1zM125 615v1h1v-1zM126 614v1h1v-1zM127 614v1h1v-1zM128 614v1h1v-1zM129 615v1h1v-1zM130 615v1h1v-1zM131 615v1h1v-1zM132 616v1h1v-1zM133 616v1h1v-1zM134 617v1h1v-1zM135 618v1h1v-1zM136 615v3h1v-3zM137 613v2h1v-2zM138 612v1h1v-1zM139 612v1h1v-1zM140 610v2h1v-2zM141 609v1h1v-1zM142 606v3h1v-3zM143 600v6h1v-6zM144 598v2h1v-2zM145 597v1h1v-1zM146 596v1h1v-1zM147 595v1h1v-1zM148 595v1h1v-1zM149 595v1h1v-1zM150 596v1h1v-1zM151 595v1h1v-1zM152 594v1h1v-1zM153 593v1h1v-1zM154 591v2h1v-2zM155 589v2h1v-2zM156 590v1h1v-1zM157 590v1h1v-1zM158 591v1h1v-1zM159 591v1h1v-1zM160 591v1h1v-1zM161 591v1h1v-1zM162 591v1h1v-1zM163 590v1h1v-1zM164 590v1h1v-1zM165 589v1h1v-1zM166 589v1h1v-1zM167 588v1h1v-1zM168 588v1h1v-1zM169 588v1h1v-1zM170 588v1h1v-1zM171 589v1h1v-1zM172 590v1h1v-1zM173 590v1h1v-1zM174 589v1h1v-1zM175 589v1h1v-1zM176 589v1h1v-1zM177 589v1h1v-1zM178 590v7h1v-7zM179 597v2h1v-2zM180 599v3h1v-3zM181 601v1h1v-1zM182 601v1h1v-1zM183 602v1h1v-1zM184 601v1h1v-1zM185 601v1h1v-1zM186 601v1h1v-1zM187 602v1h1v-1zM188 603v1h1v-1zM189 601v2h1v-2zM190 600v1h1v-1zM191 599v1h1v-1zM192 599v1h1v-1zM193 598v1h1v-1zM194 598v1h1v-1zM195 597v1h1v-1zM196 598v1h1v-1zM197 599v2h1v-2zM198 601v1h1v-1zM199 602v1h1v-1zM200 603v4h1v-4zM201 607v4h1v-4zM202 611v4h1v-4zM203 615v5h1v-5zM204 620v5h1v-5zM205 625v3h1v-3zM206 628v3h1v-3zM207 631v1h1v-1zM208 632v1h1v-1zM209 631v1h1v-1zM210 630v1h1v-1zM211 629v1h1v-1zM212 628v1h1v-1zM213 629v4h1v-4zM214 633v4h1v-4zM215 637v3h1v-3zM216 637v2h1v-2zM217 635v2h1v-2zM218 634v1h1v-1zM219 633v1h1v-1zM220 632v1h1v-1zM221 631v1h1v-1zM222 630v1h1v-1zM223 630v1h1v-1zM224 631v2h1v-2zM225 633v2h1v-2zM226 631v3h1v-3zM227 629v2h1v-2zM228 626v3h1v-3zM229 624v2h1v-2zM230 621v3h1v-3zM231 621v1h1v-1zM232 622v1h1v-1zM233 622v1h1v-1zM234 622v1h1v-1zM235 622v1h1v-1zM236 622v1h1v-1zM237 621v1h1v-1zM238 619v2h1v-2zM239 616v3h1v-3zM240 613v3h1v-3zM241 610v3h1v-3zM242 611v3h1v-3zM243 614v3h1v-3zM244 612v4h1v-4zM245 609v3h1v-3zM246 608v1h1v-1zM247 608v1h1v-1zM248 609v6h1v-6zM249 615v6h1v-6zM250 618v2h1v-2zM251 617v1h1v-1zM252 615v2h1v-2zM253 614v1h1v-1zM254 613v1h1v-1zM255 612v1h1v-1zM256 613v1h1v-1zM257 614v1h1v-1zM258 615v2h1v-2zM259 617v1h1v-1zM260 618v1h1v-1zM261 617v1h1v-1zM262 616v1h1v-1zM263 616v1h1v-1zM264 615v1h1v-1zM265 615v1h1v-1zM266 616v1h1v-1zM267 617v1h1v-1zM268 618v1h1v-1zM269 618v1h1v-1zM270 618v1h1v-1zM271 618v1h1v-1zM272 619v1h1v-1zM273 620v1h1v-1zM274 621v3h1v-3zM275 624v3h1v-3zM276 627v1h1v-1zM277 627v1h1v-1zM278 626v1h1v-1zM279 627v1h1v-1zM280 628v1h1v-1zM281 627v1h1v-1zM282 626v1h1v-1zM283 625v1h1v-1zM284 625v1h1v-1zM285 626v1h1v-1zM286 626v1h1v-1zM287 626v1h1v-1zM288 627v1h1v-1zM289 627v1h1v-1zM290 626v1h1v-1zM291 625v1h1v-1zM292 623v2h1v-2zM293 620v3h1v-3zM294 618v2h1v-2zM295 619v2h1v-2zM296 621v1h1v-1zM297 620v1h1v-1zM298 620v1h1v-1zM299 620v1h1v-1zM300 621v1h1v-1zM301 622v1h1v-1zM302 621v1h1v-1zM303 621v1h1v-1zM304 620v1h1v-1zM305 619v1h1v-1zM306 619v1h1v-1zM307 618v1h1v-1zM308 616v2h1v-2zM309 613v3h1v-3zM310 610v3h1v-3zM311 606v4h1v-4zM312 606v1h1v-1zM313 607v3h1v-3zM314 609v1h1v-1zM315 608v1h1v-1zM316 608v1h1v-1zM317 609v1h1v-1zM318 610v1h1v-1zM319 611v4h1v-4zM320 613v1h1v-1zM321 612v1h1v-1zM322 613v2h1v-2zM323 615v2h1v-2zM324 617v5h1v-5zM325 622v5h1v-5zM326 627v2h1v-2zM327 629v1h1v-1zM328 630v1h1v-1zM329 631v1h1v-1zM330 628v3h1v-3zM331 626v2h1v-2zM332 623v3h1v-3zM333 619v4h1v-4zM334 616v3h1v-3zM335 615v1h1v-1zM336 613v2h1v-2zM337 612v1h1v-1zM338 611v1h1v-1zM339 612v1h1v-1zM340 613v1h1v-1zM341 614v1h1v-1zM342 615v2h1v-2zM343 617v2h1v-2zM344 619v2h1v-2zM345 621v2h1v-2zM346 623v1h1v-1zM347 624v1h1v-1zM348 619v5h1v-5zM349 614v5h1v-5zM350 615v2h1v-2zM351 615v1h1v-1zM352 614v1h1v-1zM353 613v1h1v-1zM354 612v1h1v-1zM355 611v1h1v-1zM356 612v2h1v-2zM357 614v1h1v-1zM358 615v2h1v-2zM359 617v1h1v-1zM360 618v1h1v-1zM361 619v1h1v-1zM362 619v1h1v-1zM363 619v1h1v-1zM364 618v1h1v-1zM365 618v1h1v-1zM366 618v1h1v-1zM367 618v1h1v-1zM368 617v1h1v-1zM369 617v1h1v-1zM370 617v1h1v-1zM371 617v1h1v-1zM372 618v1h1v-1zM373 619v1h1v-1zM374 620v1h1v-1zM375 621v1h1v-1zM376 622v1h1v-1zM377 623v1h1v-1zM378 622v1h1v-1zM379 622v1h1v-1zM380 621v1h1v-1zM381 620v1h1v-1zM382 621v1h1v-1zM383 622v1h1v-1zM384 623v1h1v-1zM385 623v1h1v-1zM386 623v1h1v-1zM387 623v1h1v-1zM388 620v3h1v-3zM389 618v2h1v-2zM390 617v1h1v-1zM391 615v2h1v-2zM392 614v1h1v-1zM393 614v1h1v-1zM394 613v1h1v-1zM395 614v1h1v-1zM396 614v1h1v-1zM397 615v1h1v-1zM398 616v2h1v-2zM399 618v1h1v-1zM400 619v2h1v-2zM401 621v1h1v-1zM402 621v1h1v-1zM403 620v1h1v-1zM404 619v1h1v-1zM405 619v1h1v-1zM406 617v2h1v-2zM407 614v3h1v-3zM408 612v2h1v-2zM409 608v4h1v-4zM410 605v3h1v-3zM411 603v2h1v-2zM412 604v2h1v-2zM413 606v1h1v-1zM414 605v1h1v-1zM415 603v2h1v-2zM416 602v1h1v-1zM417 601v1h1v-1zM418 600v1h1v-1zM419 600v1h1v-1zM420 599v1h1v-1zM421 599v1h1v-1zM422 599v1h1v-1zM423 600v1h1v-1zM424 601v1h1v-1zM425 602v2h1v-2zM426 604v2h1v-2zM427 606v2h1v-2zM428 608v2h1v-2zM429 610v2h1v-2zM430 612v1h1v-1zM431 613v2h1v-2zM432 615v2h1v-2zM433 617v3h1v-3zM434 620v1h1v-1zM435 621v1h1v-1zM436 622v1h1v-1zM437 623v1h1v-1zM438 623v1h1v-1zM439 623v1h1v-1zM440 623v1h1v-1zM441 623v1h1v-1zM442 622v1h1v-1zM443 620v2h1v-2zM444 619v1h1v-1zM445 618v1h1v-1zM446 616v2h1v-2zM447 615v1h1v-1zM448 614v1h1v-1zM449 613v1h1v-1zM450 610v3h1v-3zM451 608v2h1v-2zM452 605v3h1v-3zM453 601v4h1v-4zM454 601v1h1v-1zM455 602v9h1v-9zM456 609v1h1v-1zM457 609v1h1v-1zM458 607v2h1v-2zM459 606v1h1v-1zM460 606v1h1v-1zM461 607v1h1v-1zM462 607v1h1v-1zM463 608v1h1v-1zM464 609v1h1v-1zM465 610v2h1v-2zM466 612v1h1v-1zM467 613v2h1v-2zM468 615v1h1v-1zM469 616v2h1v-2zM470 617v1h1v-1zM471 617v1h1v-1zM472 618v1h1v-1zM473 618v1h1v-1zM474 619v1h1v-1zM475 619v1h1v-1zM476 618v1h1v-1zM477 619v3h1v-3zM478 622v4h1v-4zM479 622v3h1v-3zM480 621v1h1v-1zM481 619v2h1v-2zM482 618v1h1v-1zM483 617v1h1v-1zM484 617v1h1v-1zM485 616v1h1v-1zM486 614v2h1v-2zM487 612v2h1v-2zM488 609v3h1v-3zM489 606v3h1v-3zM490 603v3h1v-3zM491 601v2h1v-2zM492 602v2h1v-2zM493 604v1h1v-1zM494 603v1h1v-1zM495 602v1h1v-1zM496 601v1h1v-1zM497 601v1h1v-1zM498 602v1h1v-1zM499 603v2h1v-2zM500 603v1h1v-1zM501 603v1h1v-1zM502 602v1h1v-1zM503 600v2h1v-2zM504 599v1h1v-1zM505 598v1h1v-1zM506 597v1h1v-1zM507 596v1h1v-1zM508 596v1h1v-1zM509 595v1h1v-1zM510 596v1h1v-1zM511 596v1h1v-1zM512 597v2h1v-2zM513 599v2h1v-2zM514 601v5h1v-5zM515 606v3h1v-3zM516 609v2h1v-2zM517 611v2h1v-2zM518 612v1h1v-1zM519 612v1h1v-1zM520 613v1h1v-1zM521 614v1h1v-1zM522 614v1h1v-1zM523 615v2h1v-2zM524 617v2h1v-2zM525 619v2h1v-2zM526 621v2h1v-2zM527 623v1h1v-1zM528 624v1h1v-1zM529 625v1h1v-1zM530 625v1h1v-1zM531 625v1h1v-1zM532 624v1h1v-1zM533 623v1h1v-1zM534 622v1h1v-1zM535 620v2h1v-2zM536 621v3h1v-3zM537 624v3h1v-3zM538 626v1h1v-1zM539 625v1h1v-1zM540 626v1h1v-1zM541 626v1h1v-1zM542 621v5h1v-5zM543 617v4h1v-4zM544 615v2h1v-2zM545 614v1h1v-1zM546 614v1h1v-1zM547 615v1h1v-1zM548 616v1h1v-1zM549 617v2h1v-2zM550 619v4h1v-4zM551 623v3h1v-3zM552 622v3h1v-3zM553 620v2h1v-2zM554 620v1h1v-1zM555 619v1h1v-1zM556 619v1h1v-1zM557 618v1h1v-1zM558 618v1h1v-1zM559 618v1h1v-1zM560 619v3h1v-3zM561 622v1h1v-1zM562 620v2h1v-2zM563 618v2h1v-2zM564 617v1h1v-1zM565 617v1h1v-1zM566 617v1h1v-1zM567 616v1h1v-1zM568 615v1h1v-1zM569 614v1h1v-1zM570 613v1h1v-1zM571 611v2h1v-2zM572 612v1h1v-1zM573 613v1h1v-1zM574 614v1h1v-1zM575 615v1h1v-1zM576 616v1h1v-1zM577 616v1h1v-1zM578 616v1h1v-1zM579 616v1h1v-1zM580 615v1h1v-1zM581 614v1h1v-1zM582 613v1h1v-1zM583 611v2h1v-2zM584 610v1h1v-1zM585 609v1h1v-1zM586 608v1h1v-1zM587 606v2h1v-2zM588 607v2h1v-2zM589 609v1h1v-1zM590 608v1h1v-1zM591 607v1h1v-1zM592 607v1h1v-1zM593 606v1h1v-1zM594 606v1h1v-1zM595 606v1h1v-1zM596 606v1h1v-1zM597 606v1h1v-1zM598 604v2h1v-2zM599 602v2h1v-2zM600 599v3h1v-3zM601 596v3h1v-3zM602 595v1h1v-1zM603 594v1h1v-1zM604 595v3h1v-3zM605 598v2h1v-2zM606 599v1h1v-1zM607 600v1h1v-1zM608 599v1h1v-1zM609 598v1h1v-1zM610 598v1h1v-1zM611 597v1h1v-1zM612 598v3h1v-3zM613 601v4h1v-4zM614 605v4h1v-4zM615 609v3h1v-3zM616 612v1h1v-1zM617 612v1h1v-1zM618 612v1h1v-1zM619 612v1h1v-1zM620 611v1h1v-1zM621 612v1h1v-1zM622 613v5h1v-5zM623 618v5h1v-5zM624 620v2h1v-2zM625 619v1h1v-1zM626 618v1h1v-1zM627 618v1h1v-1zM628 618v1h1v-1zM629 619v1h1v-1zM630 619v1h1v-1zM631 620v2h1v-2zM632 622v2h1v-2zM633 624v3h1v-3zM634 627v4h1v-4zM635 631v4h1v-4zM636 631v3h1v-3zM637 629v2h1v-2zM638 629v1h1v-1zM639 630v1h1v-1zM640 628v2h1v-2zM641 626v2h1v-2zM642 625v1h1v-1zM643 624v1h1v-1zM644 623v1h1v-1zM645 622v1h1v-1zM646 622v1h1v-1zM647 621v1h1v-1zM648 621v1h1v-1zM649 620v1h1v-1zM650 619v1h1v-1zM651 618v1h1v-1zM652 617v1h1v-1zM653 616v1h1v-1zM654 614v2h1v-2zM655 613v1h1v-1zM656 612v1h1v-1zM657 612v1h1v-1zM658 613v2h1v-2zM659 615v2h1v-2zM660 617v2h1v-2zM661 619v1h1v-1zM662 620v2h1v-2zM663 620v1h1v-1zM664 619v1h1v-1zM665 618v1h1v-1zM666 619v1h1v-1zM667 619v1h1v-1zM668 620v1h1v-1zM669 621v1h1v-1zM670 622v1h1v-1zM671 621v1h1v-1zM672 619v2h1v-2zM673 618v1h1v-1zM674 617v1h1v-1zM675 615v2h1v-2zM676 614v1h1v-1zM677 613v1h1v-1zM678 613v1h1v-1zM679 612v1h1v-1zM680 613v1h1v-1zM681 614v2h1v-2zM682 616v2h1v-2zM683 618v1h1v-1zM684 619v2h1v-2zM685 621v1h1v-1zM686 622v1h1v-1zM687 622v1h1v-1zM688 620v2h1v-2zM689 618v2h1v-2zM690 619v2h1v-2zM691 621v2h1v-2zM692 622v1h1v-1zM693 623v1h1v-1zM694 623v1h1v-1zM695 623v1h1v-1zM696 622v1h1v-1zM697 622v1h1v-1zM698 620v2h1v-2zM699 618v2h1v-2zM700 618v1h1v-1zM701 618v1h1v-1zM702 619v1h1v-1zM703 619v1h1v-1zM704 620v1h1v-1zM705 620v1h1v-1zM706 616v4h1v-4zM707 612v4h1v-4zM708 610v2h1v-2zM709 609v1h1v-1zM710 608v1h1v-1zM711 608v1h1v-1zM712 609v1h1v-1zM713 610v2h1v-2zM714 612v3h1v-3zM715 615v1h1v-1zM716 616v1h1v-1zM717 617v1h1v-1zM718 618v2h1v-2zM719 620v3h1v-3zM720 623v2h1v-2zM721 625v2h1v-2zM722 627v2h1v-2zM723 629v2h1v-2zM724 631v2h1v-2zM725 631v1h1v-1zM726 630v1h1v-1zM727 631v2h1v-2zM728 633v2h1v-2zM729 635v2h1v-2zM730 635v1h1v-1zM731 629v6h1v-6zM732 628v1h1v-1zM733 627v1h1v-1zM734 626v1h1v-1zM735 625v1h1v-1zM736 625v1h1v-1zM737 625v1h1v-1zM738 626v1h1v-1zM739 626v1h1v-1zM740 625v1h1v-1zM741 624v1h1v-1zM742 622v2h1v-2zM743 620v2h1v-2zM744 621v1h1v-1zM745 622v2h1v-2zM746 624v1h1v-1zM747 623v1h1v-1zM748 622v1h1v-1zM749 620v2h1v-2zM750 618v2h1v-2zM751 616v2h1v-2zM752 617v1h1v-1zM753 618v1h1v-1zM754 618v1h1v-1zM755 619v2h1v-2zM756 621v2h1v-2zM757 622v1h1v-1zM758 623v1h1v-1zM759 623v1h1v-1zM760 624v1h1v-1zM761 625v2h1v-2zM762 627v1h1v-1zM763 628v3h1v-3zM764 631v2h1v-2zM765 633v2h1v-2zM766 634v1h1v-1zM767 632v2h1v-2zM768 629v3h1v-3zM769 624v5h1v-5zM770 619v5h1v-5zM771 618v1h1v-1zM772 617v1h1v-1zM773 616v1h1v-1zM774 616v1h1v-1zM775 615v1h1v-1zM776 616v1h1v-1zM777 616v1h1v-1zM778 617v2h1v-2zM779 619v4h1v-4zM780 623v4h1v-4zM781 627v1h1v-1zM782 628v1h1v-1zM783 628v1h1v-1zM784 629v1h1v-1zM785 629v1h1v-1zM786 629v1h1v-1zM787 628v1h1v-1zM788 628v1h1v-1zM789 629v1h1v-1zM790 630v1h1v-1zM791 631v2h1v-2zM792 632v1h1v-1zM793 632v1h1v-1zM794 630v2h1v-2zM795 629v1h1v-1zM796 629v1h1v-1zM797 628v1h1v-1zM798 629v1h1v-1zM799 630v1h1v-1zM800 631v2h1v-2zM801 633v1h1v-1zM802 634v1h1v-1zM803 635v1h1v-1zM804 633v2h1v-2zM805 632v1h1v-1zM806 631v1h1v-1zM807 630v1h1v-1zM808 630v1h1v-1zM809 629v1h1v-1zM810 626v3h1v-3zM811 624v2h1v-2zM812 621v3h1v-3zM813 619v2h1v-2zM814 618v1h1v-1zM815 617v1h1v-1zM816 617v1h1v-1zM817 617v1h1v-1zM818 616v1h1v-1zM819 615v1h1v-1zM820 614v1h1v-1zM821 613v1h1v-1zM822 612v1h1v-1zM823 611v1h1v-1zM824 612v1h1v-1zM825 613v1h1v-1zM826 614v1h1v-1zM827 615v1h1v-1zM828 616v1h1v-1zM829 614v2h1v-2zM830 615v1h1v-1zM831 616v1h1v-1zM832 617v1h1v-1zM833 617v1h1v-1zM834 617v1h1v-1zM835 618v2h1v-2zM836 620v2h1v-2zM837 622v2h1v-2zM838 624v2h1v-2zM839 626v3h1v-3zM840 625v3h1v-3zM841 622v3h1v-3zM842 623v1h1v-1zM843 623v1h1v-1zM844 623v1h1v-1zM845 622v1h1v-1zM846 621v1h1v-1zM847 619v2h1v-2zM848 618v1h1v-1zM849 619v2h1v-2zM850 621v5h1v-5zM851 626v7h1v-7zM852 633v2h1v-2zM853 635v3h1v-3zM854 637v1h1v-1zM855 638v1h1v-1zM856 638v1h1v-1zM857 638v1h1v-1zM858 637v1h1v-1zM859 637v1h1v-1zM860 638v1h1v-1zM861 637v1h1v-1zM862 635v2h1v-2zM863 630v5h1v-5zM864 623v7h1v-7zM865 616v7h1v-7zM866 617v2h1v-2zM867 619v2h1v-2zM868 619v1h1v-1zM869 618v1h1v-1zM870 618v1h1v-1zM871 617v1h1v-1zM872 618v3h1v-3zM873 621v3h1v-3zM874 624v2h1v-2zM875 626v3h1v-3zM876 629v1h1v-1zM877 630v1h1v-1zM878 631v1h1v-1zM879 632v1h1v-1zM880 630v2h1v-2zM881 629v1h1v-1zM882 629v1h1v-1zM883 630v1h1v-1zM884 627v3h1v-3zM885 624v3h1v-3zM886 622v2h1v-2zM887 620v2h1v-2zM888 619v1h1v-1zM889 617v2h1v-2zM890 617v1h1v-1zM891 617v1h1v-1zM892 617v1h1v-1zM893 618v1h1v-1zM894 618v1h1v-1zM895 619v1h1v-1zM896 620v3h1v-3zM897 623v3h1v-3zM898 622v3h1v-3zM899 620v2h1v-2zM900 621v1h1v-1zM901 622v1h1v-1zM902 623v1h1v-1zM903 624v1h1v-1zM904 623v1h1v-1zM905 622v1h1v-1zM906 621v1h1v-1zM907 620v1h1v-1zM908 620v1h1v-1zM909 619v1h1v-1zM910 618v1h1v-1zM911 618v1h1v-1zM912 618v1h1v-1zM913 619v1h1v-1zM914 620v1h1v-1zM915 620v1h1v-1zM916 621v1h1v-1zM917 622v1h1v-1zM918 621v1h1v-1zM919 620v1h1v-1zM920 618v2h1v-2zM921 615v3h1v-3zM922 613v2h1v-2zM923 611v2h1v-2zM924 612v2h1v-2zM925 614v4h1v-4zM926 618v1h1v-1zM927 619v2h1v-2z" fill="#1e90ff"/>
</svg>
<div class="tick" style="top:53px"></div>
<div class="tx" style="left:1170.85px;top:48.53px;font-size:10px;line-height:12px;color:#000;transform:scaleX(0.9157);">0.93630</div>
<div class="tick" style="top:86px"></div>
<div class="tx" style="left:1170.85px;top:81.53px;font-size:10px;line-height:12px;color:#000;transform:scaleX(0.9157);">0.93360</div>
<div class="tick" style="top:119px"></div>
<div class="tx" style="left:1170.85px;top:114.53px;font-size:10px;line-height:12px;color:#000;transform:scaleX(0.9157);">0.93085</div>
<div class="tick" style="top:152px"></div>
<div class="tx" style="left:1170.85px;top:147.53px;font-size:10px;line-height:12px;color:#000;transform:scaleX(0.9157);">0.92815</div>
<div class="tick" style="top:185px"></div>
<div class="tx" style="left:1170.85px;top:180.53px;font-size:10px;line-height:12px;color:#000;transform:scaleX(0.9157);">0.92545</div>
<div class="tick" style="top:218px"></div>
<div class="tx" style="left:1170.85px;top:213.53px;font-size:10px;line-height:12px;color:#000;transform:scaleX(0.9157);">0.92270</div>
<div class="tick" style="top:251px"></div>
<div class="tx" style="left:1170.85px;top:246.53px;font-size:10px;line-height:12px;color:#000;transform:scaleX(0.9157);">0.92000</div>
<div class="tick" style="top:284px"></div>
<div class="tx" style="left:1170.85px;top:279.54px;font-size:10px;line-height:12px;color:#000;transform:scaleX(0.9157);">0.91730</div>
<div class="tick" style="top:317px"></div>
<div class="tx" style="left:1170.85px;top:312.54px;font-size:10px;line-height:12px;color:#000;transform:scaleX(0.9157);">0.91455</div>
<div class="tick" style="top:350px"></div>
<div class="tx" style="left:1170.85px;top:345.54px;font-size:10px;line-height:12px;color:#000;transform:scaleX(0.9349);">0.91185</div>
<div class="tick" style="top:383px"></div>
<div class="tx" style="left:1170.85px;top:378.54px;font-size:10px;line-height:12px;color:#000;transform:scaleX(0.9157);">0.90915</div>
<div class="tick" style="top:416px"></div>
<div class="tx" style="left:1170.85px;top:411.54px;font-size:10px;line-height:12px;color:#000;transform:scaleX(0.9157);">0.90640</div>
<div class="tick" style="top:449px"></div>
<div class="tx" style="left:1170.85px;top:444.54px;font-size:10px;line-height:12px;color:#000;transform:scaleX(0.9157);">0.90370</div>
<div class="tick" style="top:482px"></div>
<div class="tx" style="left:1170.85px;top:477.54px;font-size:10px;line-height:12px;color:#000;transform:scaleX(0.9157);">0.90100</div>
<div class="lab" style="top:38px;background:#f00"></div><div class="tx" style="left:1170.85px;top:38.53px;font-size:10px;line-height:12px;color:#fff;transform:scaleX(0.9157);">0.93702</div>
<div class="lab" style="top:160px;background:#f00"></div><div class="tx" style="left:1170.85px;top:160.53px;font-size:10px;line-height:12px;color:#fff;transform:scaleX(0.9157);">0.92699</div>
<div class="lab" style="top:263px;background:#0f0"></div><div class="tx" style="left:1170.85px;top:263.54px;font-size:10px;line-height:12px;color:#fff;transform:scaleX(0.9157);">0.91855</div>
<div class="lab" style="top:337px;background:#000"></div><div class="tx" style="left:1170.85px;top:337.54px;font-size:10px;line-height:12px;color:#fff;transform:scaleX(0.9157);">0.91252</div>
<div class="lab" style="top:341px;background:#00f"></div><div class="tx" style="left:1170.85px;top:341.54px;font-size:10px;line-height:12px;color:#fff;transform:scaleX(0.9157);">0.91208</div>
<div class="lab" style="top:439px;background:#00f"></div><div class="tx" style="left:1170.85px;top:439.54px;font-size:10px;line-height:12px;color:#fff;transform:scaleX(0.9157);">0.90405</div>
<div class="tx" style="left:1168.65px;top:489.54px;font-size:10px;line-height:12px;color:#000;transform:scaleX(0.9268);">0.00431</div>
<div class="tx" style="left:1168.65px;top:529.53px;font-size:10px;line-height:12px;color:#000;transform:scaleX(0.9505);">0.00</div>
<div class="tx" style="left:1169.05px;top:559.53px;font-size:10px;line-height:12px;color:#000;transform:scaleX(0.9103);">-0.003405</div>
<div class="tick" style="top:489px;width:1px"></div>
<div class="tick" style="top:534px;width:1px"></div>
<div class="tick" style="top:570px;width:1px"></div>
<div class="tick" style="top:574px;width:1px"></div>
<div class="tick" style="top:660px;width:1px"></div>
<div class="tx" style="left:1169.15px;top:575.53px;font-size:10px;line-height:12px;color:#000;transform:scaleX(0.9110);">100</div>
<div class="tx" style="left:1168.05px;top:595.53px;font-size:10px;line-height:12px;color:#000;transform:scaleX(0.9080);">70</div>
<div class="tx" style="left:1168.05px;top:630.53px;font-size:10px;line-height:12px;color:#000;transform:scaleX(0.9080);">30</div>
<div class="tx" style="left:1168.95px;top:649.53px;font-size:10px;line-height:12px;color:#000;transform:scaleX(0.8810);">0</div>
<div class="tx" style="left:6.95px;top:492.54px;font-size:10px;line-height:12px;color:#000;transform:scaleX(0.9321);">MACD(12,26,9) -0.000071 -0.000331</div>
<div class="tx" style="left:6.85px;top:577.53px;font-size:10px;line-height:12px;color:#000;transform:scaleX(0.9294);">RSI(14) 47.4077</div>
<svg class="abs" style="left:6px;top:32px" width="8" height="4"><path d="M0 4 L3.5 0 L7 4 Z" fill="#000"/></svg>
<div class="abs" style="left:4px;top:41px;width:222px;height:5px;background:#fff"></div>
<div class="tx" style="left:18.05px;top:28.54px;font-size:10px;line-height:12px;color:#000;transform:scaleX(0.9694);">USDCHF,H4</div>
<div class="tx" style="left:78.85px;top:28.54px;font-size:10px;line-height:12px;color:#000;transform:scaleX(0.9046);">0.91331</div>
<div class="tx" style="left:115.25px;top:28.54px;font-size:10px;line-height:12px;color:#000;transform:scaleX(0.8880);">0.91355</div>
<div class="tx" style="left:151.05px;top:28.54px;font-size:10px;line-height:12px;color:#000;transform:scaleX(0.9347);">0.91115</div>
<div class="tx" style="left:187.25px;top:28.54px;font-size:10px;line-height:12px;color:#000;transform:scaleX(0.8936);">0.91252</div>
<div class="abs" style="left:6px;top:45px;width:52px;height:25px;background:linear-gradient(#f44c4c,#d82626)"></div>
<div class="abs" style="left:174px;top:45px;width:51px;height:25px;background:linear-gradient(#f44c4c,#d82626)"></div>
<div class="abs" style="left:6px;top:69px;width:109px;height:33px;background:linear-gradient(#d62525,#b00e0e);border-bottom:1px solid #a00a0a"></div>
<div class="abs" style="left:117px;top:69px;width:108px;height:33px;background:linear-gradient(#d62525,#b00e0e);border-bottom:1px solid #a00a0a"></div>
<div class="abs" style="left:10px;top:69px;width:44px;height:1px;background:#9a1010"></div>
<div class="abs" style="left:177px;top:69px;width:44px;height:1px;background:#9a1010"></div>
<div class="abs" style="left:17.8px;top:49px;font-size:11.5px;line-height:14px;color:#fff;letter-spacing:-0.6px">SELL</div>
<div class="abs" style="left:186.3px;top:49px;font-size:11.5px;line-height:14px;color:#fff;letter-spacing:0px">BUY</div>
<div class="abs" style="left:60px;top:45px;width:113px;height:22px;background:#fff;border:1px solid #b4b4c0"></div>
<div class="abs" style="left:61px;top:46px;width:20px;height:20px;background:linear-gradient(#f2f2f2,#cfcfcf);border:1px solid #b8b8b8"></div>
<div class="abs" style="left:150px;top:46px;width:20px;height:20px;background:linear-gradient(#f2f2f2,#cfcfcf);border:1px solid #b8b8b8"></div>
<svg class="abs" style="left:67px;top:53px" width="8" height="6"><path d="M0.6 0.7 L6.2 0.7 L3.4 4.3 Z" fill="#5a64b4"/></svg>
<svg class="abs" style="left:156px;top:53px" width="8" height="6"><path d="M0.8 4.4 L6.2 4.4 L3.5 0.9 Z" fill="#5a64b4"/></svg>
<div class="abs" style="left:90px;top:48px;width:57px;text-align:right;font-size:13px;line-height:15px;color:#000;letter-spacing:-0.3px">3.00</div>
<div class="abs" style="left:25.599999999999998px;top:86px;font-size:11.5px;line-height:13px;font-weight:bold;color:#fff;letter-spacing:0.3px">0.91</div>
<svg class="abs" style="left:54.6px;top:73px" width="36" height="25" viewBox="0 0 36 25"><path d="M1.9 5.4 C2.9 2.7 5 1.15 7.5 1.15 C10.5 1.15 12.5 3.2 12.5 6.2 C12.5 9.2 10.8 11.6 7.8 14.8 L1.5 21.7 L1.5 22.9 L14 22.9" fill="none" stroke="#fff" stroke-width="2.1" stroke-linejoin="miter"/><g transform="translate(18.6 0)"><path d="M12.6 1.15 L3.3 1.15 L2.7 10.9 C4.2 10.3 5.6 10.1 7 10.1 C11 10.1 13.4 12.6 13.4 16.3 C13.4 20.3 10.6 22.9 6.8 22.9 C4.6 22.9 2.6 22.3 1.2 21.2" fill="none" stroke="#fff" stroke-width="2.1" stroke-linejoin="miter"/></g></svg>
<div class="abs" style="left:93.2px;top:71px;font-size:11px;line-height:12px;font-weight:bold;color:#fff">5</div>
<div class="abs" style="left:135.89999999999998px;top:86px;font-size:11.5px;line-height:13px;font-weight:bold;color:#fff;letter-spacing:0.3px">0.91</div>
<svg class="abs" style="left:165.6px;top:73px" width="36" height="25" viewBox="0 0 36 25"><path d="M1.9 5.4 C2.9 2.7 5 1.15 7.5 1.15 C10.5 1.15 12.5 3.2 12.5 6.2 C12.5 9.2 10.8 11.6 7.8 14.8 L1.5 21.7 L1.5 22.9 L14 22.9" fill="none" stroke="#fff" stroke-width="2.1" stroke-linejoin="miter"/><g transform="translate(18.6 0)"><path d="M0.9 1.15 L13.3 1.15 L13.3 1.9 L5.1 24" fill="none" stroke="#fff" stroke-width="2.1" stroke-linejoin="miter"/></g></svg>
<div class="abs" style="left:203.7px;top:71px;font-size:11px;line-height:12px;font-weight:bold;color:#fff">0</div>
<div class="dt" style="left:3px"></div>
<div class="tx" style="left:2.55px;top:665.53px;font-size:10px;line-height:12px;color:#000;transform:scaleX(0.9070);">22 Jul 2021</div>
<div class="dt" style="left:67px"></div>
<div class="tx" style="left:66.05px;top:665.53px;font-size:10px;line-height:12px;color:#000;transform:scaleX(0.9250);">29 Jul 10:00</div>
<div class="dt" style="left:131px"></div>
<div class="tx" style="left:130.05px;top:665.53px;font-size:10px;line-height:12px;color:#000;transform:scaleX(0.9628);">5 Aug 18:00</div>
<div class="dt" style="left:195px"></div>
<div class="tx" style="left:193.55px;top:665.53px;font-size:10px;line-height:12px;color:#000;transform:scaleX(0.9568);">13 Aug 00:00</div>
<div class="dt" style="left:259px"></div>
<div class="tx" style="left:257.55px;top:665.53px;font-size:10px;line-height:12px;color:#000;transform:scaleX(0.9653);">20 Aug 10:00</div>
<div class="dt" style="left:323px"></div>
<div class="tx" style="left:321.55px;top:665.53px;font-size:10px;line-height:12px;color:#000;transform:scaleX(0.9568);">27 Aug 18:00</div>
<div class="dt" style="left:387px"></div>
<div class="tx" style="left:385.05px;top:665.53px;font-size:10px;line-height:12px;color:#000;transform:scaleX(0.9437);">4 Sep 00:00</div>
<div class="dt" style="left:451px"></div>
<div class="tx" style="left:449.55px;top:665.53px;font-size:10px;line-height:12px;color:#000;transform:scaleX(0.9429);">13 Sep 11:00</div>
<div class="dt" style="left:515px"></div>
<div class="tx" style="left:513.05px;top:665.53px;font-size:10px;line-height:12px;color:#000;transform:scaleX(0.9395);">20 Sep 19:00</div>
<div class="dt" style="left:579px"></div>
<div class="tx" style="left:577.55px;top:665.53px;font-size:10px;line-height:12px;color:#000;transform:scaleX(0.9479);">28 Sep 00:00</div>
<div class="dt" style="left:643px"></div>
<div class="tx" style="left:642.55px;top:665.53px;font-size:10px;line-height:12px;color:#000;transform:scaleX(0.9555);">5 Oct 10:00</div>
<div class="dt" style="left:707px"></div>
<div class="tx" style="left:706.05px;top:665.53px;font-size:10px;line-height:12px;color:#000;transform:scaleX(0.9500);">12 Oct 18:00</div>
<div class="dt" style="left:771px"></div>
<div class="tx" style="left:770.05px;top:665.53px;font-size:10px;line-height:12px;color:#000;transform:scaleX(0.9500);">20 Oct 00:00</div>
<div class="dt" style="left:835px"></div>
<div class="tx" style="left:834.05px;top:665.53px;font-size:10px;line-height:12px;color:#000;transform:scaleX(0.9500);">27 Oct 10:00</div>
<div class="dt" style="left:899px"></div>
<div class="tx" style="left:898.55px;top:665.53px;font-size:10px;line-height:12px;color:#000;transform:scaleX(0.9717);">3 Nov 18:00</div>
<div class="abs" style="left:0;top:682px;width:1207px;height:1px;background:#e3e3e3"></div>
<div class="abs" style="left:0;top:683px;width:1207px;height:1px;background:#f4f4f4"></div>
<div id="tabs"></div>
<div class="abs" style="left:0;top:685px;width:1207px;height:1px;background:#fafafa"></div>
<div class="abs" style="left:0;top:704px;width:1207px;height:1px;background:#fdfdfd"></div>
<div class="abs" style="left:0;top:684px;width:1207px;height:1px;background:#000"></div>
<div class="abs" style="left:212px;top:684px;width:88px;height:19px;background:#fff;border:1px solid #000;border-top:1px solid #fff"></div>
<div class="tx" style="left:16.05px;top:688.42px;font-size:12.5px;line-height:14.5px;color:#6a6a6a;transform:scaleX(0.9448);">EURUSD,Daily</div>
<div class="tx" style="left:118.05px;top:688.42px;font-size:12.5px;line-height:14.5px;color:#6a6a6a;transform:scaleX(0.9864);">AUDUSD,Daily</div>
<div class="tx" style="left:221.85px;top:688.42px;font-size:12.5px;line-height:14.5px;color:#000;transform:scaleX(0.9594);">USDCHF,H4</div>
<div class="tx" style="left:310.55px;top:688.42px;font-size:12.5px;line-height:14.5px;color:#6a6a6a;transform:scaleX(0.9686);">USDCAD,Daily</div>
<div class="tx" style="left:413.55px;top:688.42px;font-size:12.5px;line-height:14.5px;color:#6a6a6a;transform:scaleX(0.9843);">USDCNH,Daily</div>
<div class="tx" style="left:519.05px;top:688.42px;font-size:12.5px;line-height:14.5px;color:#6a6a6a;transform:scaleX(1.0155);">UKOil,H4</div>
<div class="tx" style="left:593.55px;top:688.42px;font-size:12.5px;line-height:14.5px;color:#6a6a6a;transform:scaleX(0.9746);">DJ30,H1</div>
<div class="tx" style="left:663.05px;top:688.42px;font-size:12.5px;line-height:14.5px;color:#6a6a6a;transform:scaleX(0.9930);">USDX,Weekly</div>
<div class="tx" style="left:762.55px;top:688.42px;font-size:12.5px;line-height:14.5px;color:#6a6a6a;transform:scaleX(0.9700);">XAUUSD,H1</div>
<div class="tx" style="left:856.05px;top:688.42px;font-size:12.5px;line-height:14.5px;color:#6a6a6a;transform:scaleX(0.9399);">GBPUSD,H1</div>
<div class="tx" style="left:947.05px;top:688.42px;font-size:12.5px;line-height:14.5px;color:#6a6a6a;transform:scaleX(0.9930);">USDX,Weekly</div>
<div class="tsep" style="left:108px"></div>
<div class="tsep" style="left:402px"></div>
<div class="tsep" style="left:507px"></div>
<div class="tsep" style="left:584px"></div>
<div class="tsep" style="left:652px"></div>
<div class="tsep" style="left:752px"></div>
<div class="tsep" style="left:844px"></div>
<div class="tsep" style="left:936px"></div>
<div class="tsep" style="left:1037px"></div>
<svg class="abs" style="left:1178px;top:688px" width="28" height="10"><path d="M6.2 1.8 L2.6 5 L6.2 8.2 Z M21.8 1.8 L25.4 5 L21.8 8.2 Z" fill="#969696"/></svg>
</body></html>
